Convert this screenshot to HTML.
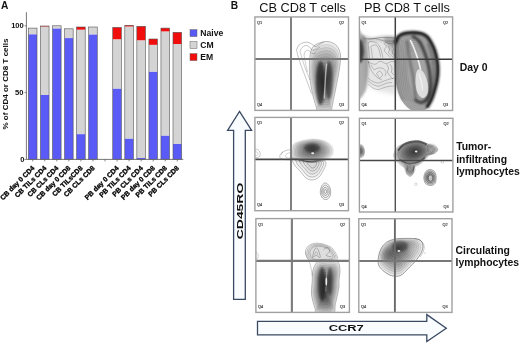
<!DOCTYPE html>
<html><head><meta charset="utf-8"><style>
html,body{margin:0;padding:0;background:#fff;}
svg{display:block;opacity:0.999;}
</style></head><body>
<svg width="520" height="344" viewBox="0 0 520 344">
<defs><clipPath id="c0"><rect x="254.9" y="16.95" width="93.60" height="93.45"/></clipPath><clipPath id="c1"><rect x="359.4" y="16.9" width="93.20" height="93.60"/></clipPath><clipPath id="c2"><rect x="254.9" y="117.4" width="93.55" height="93.30"/></clipPath><clipPath id="c3"><rect x="359.4" y="118.3" width="93.50" height="93.70"/></clipPath><clipPath id="c4"><rect x="255.9" y="218.6" width="93.50" height="93.80"/></clipPath><clipPath id="c5"><rect x="358.8" y="218.7" width="93.20" height="93.70"/></clipPath><filter id="b1" filterUnits="userSpaceOnUse" x="0" y="0" width="520" height="344"><feGaussianBlur stdDeviation="1.25"/></filter><filter id="b2" filterUnits="userSpaceOnUse" x="0" y="0" width="520" height="344"><feGaussianBlur stdDeviation="2"/></filter><filter id="b07" filterUnits="userSpaceOnUse" x="0" y="0" width="520" height="344"><feGaussianBlur stdDeviation="1"/></filter><filter id="b05" filterUnits="userSpaceOnUse" x="0" y="0" width="520" height="344"><feGaussianBlur stdDeviation="1"/></filter></defs>
<rect x="28.40" y="28.1" width="8.6" height="6.30" fill="#d4d4d4"/><rect x="28.40" y="34.4" width="8.6" height="125.00" fill="#5a5af6"/><rect x="28.40" y="28.1" width="8.6" height="131.30" fill="none" stroke="#555" stroke-width="0.6"/><rect x="40.45" y="26.0" width="8.6" height="0.70" fill="#f20d0d"/><rect x="40.45" y="26.7" width="8.6" height="68.30" fill="#d4d4d4"/><rect x="40.45" y="95.0" width="8.6" height="64.40" fill="#5a5af6"/><rect x="40.45" y="26.0" width="8.6" height="133.40" fill="none" stroke="#555" stroke-width="0.6"/><rect x="52.50" y="25.8" width="8.6" height="2.80" fill="#d4d4d4"/><rect x="52.50" y="28.6" width="8.6" height="130.80" fill="#5a5af6"/><rect x="52.50" y="25.8" width="8.6" height="133.60" fill="none" stroke="#555" stroke-width="0.6"/><rect x="64.55" y="28.8" width="8.6" height="9.30" fill="#d4d4d4"/><rect x="64.55" y="38.1" width="8.6" height="121.30" fill="#5a5af6"/><rect x="64.55" y="28.8" width="8.6" height="130.60" fill="none" stroke="#555" stroke-width="0.6"/><rect x="76.60" y="27.0" width="8.6" height="2.80" fill="#f20d0d"/><rect x="76.60" y="29.8" width="8.6" height="104.40" fill="#d4d4d4"/><rect x="76.60" y="134.2" width="8.6" height="25.20" fill="#5a5af6"/><rect x="76.60" y="27.0" width="8.6" height="132.40" fill="none" stroke="#555" stroke-width="0.6"/><rect x="88.65" y="27.0" width="8.6" height="7.60" fill="#d4d4d4"/><rect x="88.65" y="34.6" width="8.6" height="124.80" fill="#5a5af6"/><rect x="88.65" y="27.0" width="8.6" height="132.40" fill="none" stroke="#555" stroke-width="0.6"/><rect x="112.75" y="27.4" width="8.6" height="12.10" fill="#f20d0d"/><rect x="112.75" y="39.5" width="8.6" height="49.30" fill="#d4d4d4"/><rect x="112.75" y="88.8" width="8.6" height="70.60" fill="#5a5af6"/><rect x="112.75" y="27.4" width="8.6" height="132.00" fill="none" stroke="#555" stroke-width="0.6"/><rect x="124.80" y="25.3" width="8.6" height="1.40" fill="#f20d0d"/><rect x="124.80" y="26.7" width="8.6" height="112.10" fill="#d4d4d4"/><rect x="124.80" y="138.8" width="8.6" height="20.60" fill="#5a5af6"/><rect x="124.80" y="25.3" width="8.6" height="134.10" fill="none" stroke="#555" stroke-width="0.6"/><rect x="136.85" y="26.3" width="8.6" height="14.20" fill="#f20d0d"/><rect x="136.85" y="40.5" width="8.6" height="117.50" fill="#d4d4d4"/><rect x="136.85" y="158.0" width="8.6" height="1.40" fill="#5a5af6"/><rect x="136.85" y="26.3" width="8.6" height="133.10" fill="none" stroke="#555" stroke-width="0.6"/><rect x="148.90" y="39.0" width="8.6" height="5.90" fill="#f20d0d"/><rect x="148.90" y="44.9" width="8.6" height="27.00" fill="#d4d4d4"/><rect x="148.90" y="71.9" width="8.6" height="87.50" fill="#5a5af6"/><rect x="148.90" y="39.0" width="8.6" height="120.40" fill="none" stroke="#555" stroke-width="0.6"/><rect x="160.95" y="28.1" width="8.6" height="3.50" fill="#f20d0d"/><rect x="160.95" y="31.6" width="8.6" height="104.20" fill="#d4d4d4"/><rect x="160.95" y="135.8" width="8.6" height="23.60" fill="#5a5af6"/><rect x="160.95" y="28.1" width="8.6" height="131.30" fill="none" stroke="#555" stroke-width="0.6"/><rect x="173.00" y="32.3" width="8.6" height="11.70" fill="#f20d0d"/><rect x="173.00" y="44.0" width="8.6" height="100.00" fill="#d4d4d4"/><rect x="173.00" y="144.0" width="8.6" height="15.40" fill="#5a5af6"/><rect x="173.00" y="32.3" width="8.6" height="127.10" fill="none" stroke="#555" stroke-width="0.6"/><path d="M26.4 12.2 V159.4 H183.3" fill="none" stroke="#666" stroke-width="0.9"/><path d="M24.6 25.8 H26.4" stroke="#666" stroke-width="0.8"/><path d="M24.6 92.6 H26.4" stroke="#666" stroke-width="0.8"/><path d="M24.6 159.4 H26.4" stroke="#666" stroke-width="0.8"/><path d="M32.70 159.4 V161.4" stroke="#666" stroke-width="0.8"/><path d="M44.75 159.4 V161.4" stroke="#666" stroke-width="0.8"/><path d="M56.80 159.4 V161.4" stroke="#666" stroke-width="0.8"/><path d="M68.85 159.4 V161.4" stroke="#666" stroke-width="0.8"/><path d="M80.90 159.4 V161.4" stroke="#666" stroke-width="0.8"/><path d="M92.95 159.4 V161.4" stroke="#666" stroke-width="0.8"/><path d="M105.00 159.4 V161.4" stroke="#666" stroke-width="0.8"/><path d="M117.05 159.4 V161.4" stroke="#666" stroke-width="0.8"/><path d="M129.10 159.4 V161.4" stroke="#666" stroke-width="0.8"/><path d="M141.15 159.4 V161.4" stroke="#666" stroke-width="0.8"/><path d="M153.20 159.4 V161.4" stroke="#666" stroke-width="0.8"/><path d="M165.25 159.4 V161.4" stroke="#666" stroke-width="0.8"/><path d="M177.30 159.4 V161.4" stroke="#666" stroke-width="0.8"/><g font-family="Liberation Sans" font-weight="bold" font-size="7.6" text-anchor="end" fill="#111"><text x="23.8" y="27.9">100</text><text x="23.4" y="95.3">50</text><text x="24.4" y="161.6">0</text></g><text transform="translate(8.4 84) rotate(-90)" text-anchor="middle" font-family="Liberation Sans" font-weight="bold" font-size="7.4" textLength="91" lengthAdjust="spacingAndGlyphs" fill="#111">% of CD4 or CD8 T cells</text><g font-family="Liberation Sans" font-weight="bold" font-size="6.9" text-anchor="end" fill="#000" stroke="#000" stroke-width="0.3"><text transform="translate(34.90 168.5) rotate(-45)">CB day 0 CD4</text><text transform="translate(46.95 168.5) rotate(-45)">CB TILs CD4</text><text transform="translate(59.00 168.5) rotate(-45)">CB CLs CD4</text><text transform="translate(71.05 168.5) rotate(-45)">CB day 0 CD8</text><text transform="translate(83.10 168.5) rotate(-45)">CB TILsCD8</text><text transform="translate(95.15 168.5) rotate(-45)">CB CLs CD8</text><text transform="translate(119.25 168.5) rotate(-45)">PB day 0 CD4</text><text transform="translate(131.30 168.5) rotate(-45)">PB TILs CD4</text><text transform="translate(143.35 168.5) rotate(-45)">PB CLs CD4</text><text transform="translate(155.40 168.5) rotate(-45)">PB day 0 CD8</text><text transform="translate(167.45 168.5) rotate(-45)">PB TILs CD8</text><text transform="translate(179.50 168.5) rotate(-45)">PB CLs CD8</text></g><rect x="190" y="29.6" width="7" height="7" fill="#5a5af6" stroke="#666" stroke-width="0.5"/><text x="200.3" y="35.9" font-family="Liberation Sans" font-weight="bold" font-size="8.6" fill="#111">Naive</text><rect x="190" y="41.6" width="7" height="7" fill="#d4d4d4" stroke="#666" stroke-width="0.5"/><text x="200.3" y="47.9" font-family="Liberation Sans" font-weight="bold" font-size="8.6" fill="#111">CM</text><rect x="190" y="53.6" width="7" height="7" fill="#f20d0d" stroke="#666" stroke-width="0.5"/><text x="200.3" y="59.9" font-family="Liberation Sans" font-weight="bold" font-size="8.6" fill="#111">EM</text><text x="1.0" y="8.6" font-family="Liberation Sans" font-weight="bold" font-size="10.2" fill="#111">A</text><text x="230.8" y="8.5" font-family="Liberation Sans" font-weight="bold" font-size="10.2" fill="#111">B</text><text x="259.3" y="11.9" font-family="Liberation Sans" font-size="12.75" fill="#111">CB CD8 T cells</text><text x="363.9" y="12.3" font-family="Liberation Sans" font-size="12.75" fill="#111">PB CD8 T cells</text><g font-family="Liberation Sans" font-weight="bold" font-size="10.4" fill="#111"><text x="459.7" y="71">Day 0</text><text x="456.2" y="150.3">Tumor-</text><text x="456.2" y="162.6">infiltrating</text><text x="456.2" y="175">lymphocytes</text><text x="455.6" y="253.5">Circulating</text><text x="455.6" y="266">lymphocytes</text></g><g clip-path="url(#c0)"><path d="M296.50 50.00 C296.92 49.17 297.75 46.25 299.00 45.00 C300.25 43.75 302.33 42.92 304.00 42.50 C305.67 42.08 307.50 42.08 309.00 42.50 C310.50 42.92 311.83 44.33 313.00 45.00 C314.17 45.67 314.83 46.67 316.00 46.50 C317.17 46.33 318.67 44.75 320.00 44.00 C321.33 43.25 323.33 42.33 324.00 42.00" fill="none" stroke="rgba(0,0,0,0.55)" stroke-width="0.45"/><path d="M296.50 50.00 C296.75 51.00 297.33 53.67 298.00 56.00 C298.67 58.33 299.58 61.33 300.50 64.00 C301.42 66.67 302.50 69.33 303.50 72.00 C304.50 74.67 305.50 77.33 306.50 80.00 C307.50 82.67 308.67 85.67 309.50 88.00 C310.33 90.33 311.17 93.00 311.50 94.00" fill="none" stroke="rgba(0,0,0,0.5)" stroke-width="0.45"/><path d="M300.00 51.50 C300.33 50.83 301.00 48.50 302.00 47.50 C303.00 46.50 304.75 45.58 306.00 45.50 C307.25 45.42 308.50 46.25 309.50 47.00 C310.50 47.75 310.92 49.58 312.00 50.00 C313.08 50.42 314.67 50.00 316.00 49.50 C317.33 49.00 319.33 47.42 320.00 47.00" fill="none" stroke="rgba(0,0,0,0.5)" stroke-width="0.45"/><path d="M300.00 51.50 C300.33 52.58 301.25 55.58 302.00 58.00 C302.75 60.42 303.58 63.33 304.50 66.00 C305.42 68.67 306.58 71.67 307.50 74.00 C308.42 76.33 309.58 79.00 310.00 80.00" fill="none" stroke="rgba(0,0,0,0.45)" stroke-width="0.45"/><path d="M304.00 55.00 C304.25 54.33 304.67 51.75 305.50 51.00 C306.33 50.25 307.92 50.08 309.00 50.50 C310.08 50.92 310.83 53.08 312.00 53.50 C313.17 53.92 315.33 53.08 316.00 53.00" fill="none" stroke="rgba(0,0,0,0.45)" stroke-width="0.45"/><path d="M304.00 55.00 C304.25 56.33 304.92 60.17 305.50 63.00 C306.08 65.83 307.17 70.50 307.50 72.00" fill="none" stroke="rgba(0,0,0,0.4)" stroke-width="0.45"/><path d="M313.00 47.00 C314.25 45.42 315.83 44.42 318.00 43.50 C320.17 42.58 323.50 41.58 326.00 41.50 C328.50 41.42 331.00 42.00 333.00 43.00 C335.00 44.00 336.75 45.50 338.00 47.50 C339.25 49.50 340.17 52.08 340.50 55.00 C340.83 57.92 340.42 61.33 340.00 65.00 C339.58 68.67 338.75 72.83 338.00 77.00 C337.25 81.17 336.33 85.83 335.50 90.00 C334.67 94.17 333.67 98.67 333.00 102.00 C332.33 105.33 331.92 108.00 331.50 110.00 C331.08 112.00 332.75 113.33 330.50 114.00 C328.25 114.67 320.33 115.00 318.00 114.00 C315.67 113.00 317.25 110.67 316.50 108.00 C315.75 105.33 314.42 101.67 313.50 98.00 C312.58 94.33 311.67 90.00 311.00 86.00 C310.33 82.00 309.75 78.00 309.50 74.00 C309.25 70.00 309.33 65.50 309.50 62.00 C309.67 58.50 309.92 55.50 310.50 53.00 C311.08 50.50 311.75 48.58 313.00 47.00Z" fill="rgba(0,0,0,0.075)" stroke="rgba(0,0,0,0.24)" stroke-width="0.35"/><path d="M313.82 49.62 C314.98 48.16 316.45 47.24 318.45 46.39 C320.45 45.54 323.54 44.61 325.85 44.54 C328.16 44.46 330.48 45.00 332.32 45.92 C334.17 46.85 335.79 48.24 336.95 50.09 C338.11 51.94 338.95 54.33 339.26 57.02 C339.57 59.72 339.19 62.88 338.80 66.28 C338.41 69.67 337.64 73.52 336.95 77.38 C336.26 81.23 335.41 85.55 334.64 89.40 C333.87 93.25 332.94 97.42 332.32 100.50 C331.71 103.58 331.32 106.05 330.94 107.90 C330.55 109.75 332.09 110.98 330.01 111.60 C327.93 112.22 320.61 112.52 318.45 111.60 C316.29 110.67 317.76 108.52 317.06 106.05 C316.37 103.58 315.14 100.19 314.29 96.80 C313.44 93.41 312.59 89.40 311.98 85.70 C311.36 82.00 310.82 78.30 310.59 74.60 C310.36 70.90 310.43 66.74 310.59 63.50 C310.74 60.26 310.97 57.49 311.51 55.17 C312.05 52.86 312.67 51.09 313.82 49.62Z" fill="rgba(0,0,0,0.075)" stroke="rgba(0,0,0,0.24)" stroke-width="0.35"/><path d="M314.65 52.25 C315.71 50.90 317.06 50.05 318.90 49.27 C320.74 48.50 323.57 47.65 325.70 47.58 C327.82 47.50 329.95 48.00 331.65 48.85 C333.35 49.70 334.84 50.97 335.90 52.67 C336.96 54.38 337.74 56.57 338.02 59.05 C338.31 61.53 337.95 64.43 337.60 67.55 C337.25 70.67 336.54 74.21 335.90 77.75 C335.26 81.29 334.48 85.26 333.77 88.80 C333.07 92.34 332.22 96.17 331.65 99.00 C331.08 101.83 330.73 104.10 330.38 105.80 C330.02 107.50 331.44 108.63 329.52 109.20 C327.61 109.77 320.88 110.05 318.90 109.20 C316.92 108.35 318.26 106.37 317.62 104.10 C316.99 101.83 315.85 98.72 315.07 95.60 C314.30 92.48 313.52 88.80 312.95 85.40 C312.38 82.00 311.89 78.60 311.68 75.20 C311.46 71.80 311.53 67.97 311.68 65.00 C311.82 62.02 312.03 59.48 312.52 57.35 C313.02 55.23 313.59 53.60 314.65 52.25Z" fill="rgba(0,0,0,0.075)" stroke="rgba(0,0,0,0.24)" stroke-width="0.35"/><path d="M315.48 54.88 C316.44 53.65 317.67 52.87 319.35 52.16 C321.03 51.45 323.61 50.68 325.55 50.61 C327.49 50.55 329.43 51.00 330.98 51.77 C332.53 52.55 333.88 53.71 334.85 55.26 C335.82 56.81 336.53 58.81 336.79 61.08 C337.05 63.34 336.72 65.98 336.40 68.83 C336.08 71.67 335.43 74.90 334.85 78.12 C334.27 81.35 333.56 84.97 332.91 88.20 C332.27 91.43 331.49 94.92 330.98 97.50 C330.46 100.08 330.14 102.15 329.81 103.70 C329.49 105.25 330.78 106.28 329.04 106.80 C327.29 107.32 321.16 107.57 319.35 106.80 C317.54 106.03 318.77 104.22 318.19 102.15 C317.61 100.08 316.57 97.24 315.86 94.40 C315.15 91.56 314.44 88.20 313.93 85.10 C313.41 82.00 312.96 78.90 312.76 75.80 C312.57 72.70 312.63 69.21 312.76 66.50 C312.89 63.79 313.09 61.46 313.54 59.52 C313.99 57.59 314.51 56.10 315.48 54.88Z" fill="rgba(0,0,0,0.075)" stroke="rgba(0,0,0,0.24)" stroke-width="0.35"/><path d="M316.30 57.50 C317.18 56.39 318.28 55.69 319.80 55.05 C321.32 54.41 323.65 53.71 325.40 53.65 C327.15 53.59 328.90 54.00 330.30 54.70 C331.70 55.40 332.93 56.45 333.80 57.85 C334.68 59.25 335.32 61.06 335.55 63.10 C335.78 65.14 335.49 67.53 335.20 70.10 C334.91 72.67 334.32 75.58 333.80 78.50 C333.28 81.42 332.63 84.68 332.05 87.60 C331.47 90.52 330.77 93.67 330.30 96.00 C329.83 98.33 329.54 100.20 329.25 101.60 C328.96 103.00 330.12 103.93 328.55 104.40 C326.98 104.87 321.43 105.10 319.80 104.40 C318.17 103.70 319.27 102.07 318.75 100.20 C318.23 98.33 317.29 95.77 316.65 93.20 C316.01 90.63 315.37 87.60 314.90 84.80 C314.43 82.00 314.03 79.20 313.85 76.40 C313.68 73.60 313.73 70.45 313.85 68.00 C313.97 65.55 314.14 63.45 314.55 61.70 C314.96 59.95 315.43 58.61 316.30 57.50Z" fill="rgba(0,0,0,0.075)" stroke="rgba(0,0,0,0.24)" stroke-width="0.35"/><path d="M317.12 60.12 C317.91 59.14 318.90 58.51 320.25 57.94 C321.60 57.36 323.69 56.74 325.25 56.69 C326.81 56.64 328.38 57.00 329.62 57.62 C330.88 58.25 331.97 59.19 332.75 60.44 C333.53 61.69 334.10 63.30 334.31 65.12 C334.52 66.95 334.26 69.08 334.00 71.38 C333.74 73.67 333.22 76.27 332.75 78.88 C332.28 81.48 331.71 84.40 331.19 87.00 C330.67 89.60 330.04 92.42 329.62 94.50 C329.21 96.58 328.95 98.25 328.69 99.50 C328.43 100.75 329.47 101.58 328.06 102.00 C326.66 102.42 321.71 102.62 320.25 102.00 C318.79 101.38 319.78 99.92 319.31 98.25 C318.84 96.58 318.01 94.29 317.44 92.00 C316.86 89.71 316.29 87.00 315.88 84.50 C315.46 82.00 315.09 79.50 314.94 77.00 C314.78 74.50 314.83 71.69 314.94 69.50 C315.04 67.31 315.20 65.44 315.56 63.88 C315.93 62.31 316.34 61.11 317.12 60.12Z" fill="rgba(0,0,0,0.075)" stroke="rgba(0,0,0,0.24)" stroke-width="0.35"/><path d="M317.95 62.75 C318.64 61.88 319.51 61.33 320.70 60.83 C321.89 60.32 323.73 59.77 325.10 59.72 C326.48 59.68 327.85 60.00 328.95 60.55 C330.05 61.10 331.01 61.92 331.70 63.02 C332.39 64.12 332.89 65.55 333.07 67.15 C333.26 68.75 333.03 70.63 332.80 72.65 C332.57 74.67 332.11 76.96 331.70 79.25 C331.29 81.54 330.78 84.11 330.32 86.40 C329.87 88.69 329.32 91.17 328.95 93.00 C328.58 94.83 328.35 96.30 328.12 97.40 C327.90 98.50 328.81 99.23 327.57 99.60 C326.34 99.97 321.98 100.15 320.70 99.60 C319.42 99.05 320.29 97.77 319.88 96.30 C319.46 94.83 318.73 92.82 318.23 90.80 C317.72 88.78 317.22 86.40 316.85 84.20 C316.48 82.00 316.16 79.80 316.02 77.60 C315.89 75.40 315.93 72.92 316.02 71.00 C316.12 69.08 316.25 67.42 316.57 66.05 C316.90 64.67 317.26 63.62 317.95 62.75Z" fill="rgba(0,0,0,0.075)" stroke="rgba(0,0,0,0.24)" stroke-width="0.35"/><path d="M318.77 65.38 C319.37 64.62 320.12 64.15 321.15 63.71 C322.18 63.28 323.76 62.80 324.95 62.76 C326.14 62.72 327.32 63.00 328.27 63.48 C329.22 63.95 330.06 64.66 330.65 65.61 C331.24 66.56 331.68 67.79 331.84 69.17 C332.00 70.56 331.80 72.18 331.60 73.92 C331.40 75.67 331.01 77.65 330.65 79.62 C330.29 81.60 329.86 83.82 329.46 85.80 C329.07 87.78 328.59 89.92 328.27 91.50 C327.96 93.08 327.76 94.35 327.56 95.30 C327.36 96.25 328.16 96.88 327.09 97.20 C326.02 97.52 322.26 97.68 321.15 97.20 C320.04 96.72 320.79 95.62 320.44 94.35 C320.08 93.08 319.45 91.34 319.01 89.60 C318.58 87.86 318.14 85.80 317.82 83.90 C317.51 82.00 317.23 80.10 317.11 78.20 C316.99 76.30 317.03 74.16 317.11 72.50 C317.19 70.84 317.31 69.41 317.59 68.22 C317.86 67.04 318.18 66.13 318.77 65.38Z" fill="rgba(0,0,0,0.075)" stroke="rgba(0,0,0,0.24)" stroke-width="0.35"/><path d="M319.60 68.00 C320.10 67.37 320.73 66.97 321.60 66.60 C322.47 66.23 323.80 65.83 324.80 65.80 C325.80 65.77 326.80 66.00 327.60 66.40 C328.40 66.80 329.10 67.40 329.60 68.20 C330.10 69.00 330.47 70.03 330.60 71.20 C330.73 72.37 330.57 73.73 330.40 75.20 C330.23 76.67 329.90 78.33 329.60 80.00 C329.30 81.67 328.93 83.53 328.60 85.20 C328.27 86.87 327.87 88.67 327.60 90.00 C327.33 91.33 327.17 92.40 327.00 93.20 C326.83 94.00 327.50 94.53 326.60 94.80 C325.70 95.07 322.53 95.20 321.60 94.80 C320.67 94.40 321.30 93.47 321.00 92.40 C320.70 91.33 320.17 89.87 319.80 88.40 C319.43 86.93 319.07 85.20 318.80 83.60 C318.53 82.00 318.30 80.40 318.20 78.80 C318.10 77.20 318.13 75.40 318.20 74.00 C318.27 72.60 318.37 71.40 318.60 70.40 C318.83 69.40 319.10 68.63 319.60 68.00Z" fill="rgba(0,0,0,0.075)" stroke="rgba(0,0,0,0.24)" stroke-width="0.35"/><path d="M320.43 70.62 C320.83 70.11 321.35 69.79 322.05 69.49 C322.75 69.19 323.84 68.86 324.65 68.84 C325.46 68.81 326.27 69.00 326.93 69.33 C327.58 69.65 328.14 70.14 328.55 70.79 C328.96 71.44 329.25 72.28 329.36 73.22 C329.47 74.17 329.34 75.28 329.20 76.47 C329.06 77.67 328.79 79.02 328.55 80.38 C328.31 81.73 328.01 83.25 327.74 84.60 C327.47 85.95 327.14 87.42 326.93 88.50 C326.71 89.58 326.57 90.45 326.44 91.10 C326.30 91.75 326.84 92.18 326.11 92.40 C325.38 92.62 322.81 92.73 322.05 92.40 C321.29 92.08 321.81 91.32 321.56 90.45 C321.32 89.58 320.89 88.39 320.59 87.20 C320.29 86.01 319.99 84.60 319.77 83.30 C319.56 82.00 319.37 80.70 319.29 79.40 C319.21 78.10 319.23 76.64 319.29 75.50 C319.34 74.36 319.42 73.39 319.61 72.58 C319.80 71.76 320.02 71.14 320.43 70.62Z" fill="rgba(0,0,0,0.075)" stroke="rgba(0,0,0,0.24)" stroke-width="0.35"/><path d="M321.25 73.25 C321.56 72.85 321.96 72.60 322.50 72.38 C323.04 72.15 323.88 71.90 324.50 71.88 C325.12 71.85 325.75 72.00 326.25 72.25 C326.75 72.50 327.19 72.88 327.50 73.38 C327.81 73.88 328.04 74.52 328.12 75.25 C328.21 75.98 328.10 76.83 328.00 77.75 C327.90 78.67 327.69 79.71 327.50 80.75 C327.31 81.79 327.08 82.96 326.88 84.00 C326.67 85.04 326.42 86.17 326.25 87.00 C326.08 87.83 325.98 88.50 325.88 89.00 C325.77 89.50 326.19 89.83 325.62 90.00 C325.06 90.17 323.08 90.25 322.50 90.00 C321.92 89.75 322.31 89.17 322.12 88.50 C321.94 87.83 321.60 86.92 321.38 86.00 C321.15 85.08 320.92 84.00 320.75 83.00 C320.58 82.00 320.44 81.00 320.38 80.00 C320.31 79.00 320.33 77.88 320.38 77.00 C320.42 76.12 320.48 75.38 320.62 74.75 C320.77 74.12 320.94 73.65 321.25 73.25Z" fill="rgba(0,0,0,0.075)" stroke="rgba(0,0,0,0.24)" stroke-width="0.35"/><path d="M322.07 75.88 C322.29 75.60 322.57 75.42 322.95 75.26 C323.33 75.10 323.91 74.93 324.35 74.91 C324.79 74.90 325.23 75.00 325.57 75.17 C325.92 75.35 326.23 75.61 326.45 75.96 C326.67 76.31 326.83 76.76 326.89 77.28 C326.95 77.79 326.87 78.38 326.80 79.03 C326.73 79.67 326.58 80.40 326.45 81.12 C326.32 81.85 326.16 82.67 326.01 83.40 C325.87 84.13 325.69 84.92 325.57 85.50 C325.46 86.08 325.39 86.55 325.31 86.90 C325.24 87.25 325.53 87.48 325.14 87.60 C324.74 87.72 323.36 87.77 322.95 87.60 C322.54 87.42 322.82 87.02 322.69 86.55 C322.56 86.08 322.32 85.44 322.16 84.80 C322.00 84.16 321.84 83.40 321.73 82.70 C321.61 82.00 321.51 81.30 321.46 80.60 C321.42 79.90 321.43 79.11 321.46 78.50 C321.49 77.89 321.54 77.36 321.64 76.92 C321.74 76.49 321.86 76.15 322.07 75.88Z" fill="rgba(0,0,0,0.075)" stroke="rgba(0,0,0,0.24)" stroke-width="0.35"/><path d="M322.90 78.50 C323.02 78.34 323.18 78.24 323.40 78.15 C323.62 78.06 323.95 77.96 324.20 77.95 C324.45 77.94 324.70 78.00 324.90 78.10 C325.10 78.20 325.27 78.35 325.40 78.55 C325.52 78.75 325.62 79.01 325.65 79.30 C325.68 79.59 325.64 79.93 325.60 80.30 C325.56 80.67 325.47 81.08 325.40 81.50 C325.32 81.92 325.23 82.38 325.15 82.80 C325.07 83.22 324.97 83.67 324.90 84.00 C324.83 84.33 324.79 84.60 324.75 84.80 C324.71 85.00 324.88 85.13 324.65 85.20 C324.42 85.27 323.63 85.30 323.40 85.20 C323.17 85.10 323.32 84.87 323.25 84.60 C323.18 84.33 323.04 83.97 322.95 83.60 C322.86 83.23 322.77 82.80 322.70 82.40 C322.63 82.00 322.57 81.60 322.55 81.20 C322.53 80.80 322.53 80.35 322.55 80.00 C322.57 79.65 322.59 79.35 322.65 79.10 C322.71 78.85 322.77 78.66 322.90 78.50Z" fill="rgba(0,0,0,0.075)" stroke="rgba(0,0,0,0.24)" stroke-width="0.35"/><path d="M313.00 47.00 C314.25 45.42 315.83 44.42 318.00 43.50 C320.17 42.58 323.50 41.58 326.00 41.50 C328.50 41.42 331.00 42.00 333.00 43.00 C335.00 44.00 336.75 45.50 338.00 47.50 C339.25 49.50 340.17 52.08 340.50 55.00 C340.83 57.92 340.42 61.33 340.00 65.00 C339.58 68.67 338.75 72.83 338.00 77.00 C337.25 81.17 336.33 85.83 335.50 90.00 C334.67 94.17 333.67 98.67 333.00 102.00 C332.33 105.33 331.92 108.00 331.50 110.00 C331.08 112.00 332.75 113.33 330.50 114.00 C328.25 114.67 320.33 115.00 318.00 114.00 C315.67 113.00 317.25 110.67 316.50 108.00 C315.75 105.33 314.42 101.67 313.50 98.00 C312.58 94.33 311.67 90.00 311.00 86.00 C310.33 82.00 309.75 78.00 309.50 74.00 C309.25 70.00 309.33 65.50 309.50 62.00 C309.67 58.50 309.92 55.50 310.50 53.00 C311.08 50.50 311.75 48.58 313.00 47.00Z" fill="none" stroke="rgba(0,0,0,0.45)" stroke-width="0.45"/><ellipse cx="320.6" cy="83" rx="4.8" ry="22" fill="rgba(0,0,0,0.55)" filter="url(#b1)"/><ellipse cx="329" cy="80" rx="3.6" ry="19" fill="rgba(0,0,0,0.45)" filter="url(#b1)"/><path d="M326.60 64.00 C326.43 65.83 325.87 71.33 325.60 75.00 C325.33 78.67 325.22 82.17 325.00 86.00 C324.78 89.83 324.42 96.00 324.30 98.00" fill="none" stroke="rgba(255,255,255,0.55)" stroke-width="1.4" stroke-linecap="round"/></g><path d="M291.0 16.95 V110.4" stroke="#808080" stroke-width="2.0"/><path d="M254.9 59.0 H348.5" stroke="#787878" stroke-width="2.0"/><rect x="254.9" y="16.95" width="93.60" height="93.45" fill="none" stroke="#a0a0a0" stroke-width="1.4"/><g font-family="Liberation Sans" font-size="3.9" fill="#333" stroke="#333" stroke-width="0.15"><text x="257.10" y="23.95">Q1</text><text x="344.20" y="23.95" text-anchor="end">Q2</text><text x="257.10" y="106.10">Q4</text><text x="344.20" y="106.10" text-anchor="end">Q3</text></g><g clip-path="url(#c1)"><path d="M357.00 33.00 C357.83 22.83 360.42 32.83 362.00 34.00 C363.58 35.17 365.50 37.00 366.50 40.00 C367.50 43.00 367.67 47.67 368.00 52.00 C368.33 56.33 368.58 61.33 368.50 66.00 C368.42 70.67 368.08 75.67 367.50 80.00 C366.92 84.33 366.75 89.50 365.00 92.00 C363.25 94.50 358.33 104.83 357.00 95.00 C355.67 85.17 356.17 43.17 357.00 33.00Z" fill="rgba(0,0,0,0.32)" filter="url(#b1)"/><ellipse cx="359.5" cy="51" rx="4.5" ry="12" fill="rgba(0,0,0,0.65)" filter="url(#b1)"/><path d="M362.00 35.50 C363.33 34.50 368.67 37.00 372.00 37.00 C375.33 37.00 378.67 35.75 382.00 35.50 C385.33 35.25 389.50 35.25 392.00 35.50 C394.50 35.75 396.17 35.25 397.00 37.00 C397.83 38.75 398.17 44.67 397.00 46.00 C395.83 47.33 392.50 45.67 390.00 45.00 C387.50 44.33 385.00 42.58 382.00 42.00 C379.00 41.42 375.00 41.33 372.00 41.50 C369.00 41.67 365.67 44.00 364.00 43.00 C362.33 42.00 360.67 36.50 362.00 35.50Z" fill="rgba(0,0,0,0.16)" filter="url(#b07)"/><path d="M364.00 38.50 C365.33 38.58 369.33 39.17 372.00 39.00 C374.67 38.83 377.33 37.75 380.00 37.50 C382.67 37.25 385.33 37.42 388.00 37.50 C390.67 37.58 394.67 37.92 396.00 38.00" fill="none" stroke="rgba(0,0,0,0.5)" stroke-width="0.5"/><path d="M384.00 38.00 C384.50 36.17 389.83 36.67 392.00 37.00 C394.17 37.33 396.17 36.50 397.00 40.00 C397.83 43.50 397.67 55.33 397.00 58.00 C396.33 60.67 394.33 57.67 393.00 56.00 C391.67 54.33 390.50 51.00 389.00 48.00 C387.50 45.00 383.50 39.83 384.00 38.00Z" fill="rgba(0,0,0,0.18)" filter="url(#b1)"/><path d="M366.00 42.00 C367.83 39.67 372.33 41.33 376.00 41.00 C379.67 40.67 384.67 39.83 388.00 40.00 C391.33 40.17 394.67 33.67 396.00 42.00 C397.33 50.33 397.33 81.50 396.00 90.00 C394.67 98.50 391.33 93.00 388.00 93.00 C384.67 93.00 379.50 91.50 376.00 90.00 C372.50 88.50 368.83 87.33 367.00 84.00 C365.17 80.67 365.33 74.83 365.00 70.00 C364.67 65.17 364.83 59.67 365.00 55.00 C365.17 50.33 364.17 44.33 366.00 42.00Z" fill="rgba(0,0,0,0.1)" filter="url(#b2)"/><path d="M367.50 39.10 C368.67 38.98 372.18 38.22 374.50 38.40 C376.82 38.58 379.43 39.73 381.40 40.20 C383.37 40.67 384.08 41.08 386.30 41.20 C388.52 41.32 393.30 40.95 394.70 40.90" fill="none" stroke="rgba(0,0,0,0.5)" stroke-width="0.42"/><path d="M369.60 58.30 C369.48 56.92 369.13 52.55 368.90 50.00 C368.67 47.45 367.85 44.40 368.20 43.00 C368.55 41.60 369.60 41.60 371.00 41.60 C372.40 41.60 375.10 42.07 376.60 43.00 C378.10 43.93 379.08 45.47 380.00 47.20 C380.92 48.93 381.63 51.55 382.10 53.40 C382.57 55.25 382.68 57.48 382.80 58.30" fill="none" stroke="rgba(0,0,0,0.5)" stroke-width="0.42"/><path d="M372.50 58.00 C372.33 56.67 371.75 51.92 371.50 50.00 C371.25 48.08 370.27 47.33 371.00 46.50 C371.73 45.67 374.63 44.65 375.90 45.00 C377.17 45.35 377.92 47.27 378.60 48.60 C379.28 49.93 379.65 51.60 380.00 53.00 C380.35 54.40 380.58 56.33 380.70 57.00" fill="none" stroke="rgba(0,0,0,0.5)" stroke-width="0.42"/><path d="M383.50 43.00 C383.97 43.58 386.18 45.33 386.30 46.50 C386.42 47.67 384.08 48.73 384.20 50.00 C384.32 51.27 385.95 52.85 387.00 54.10 C388.05 55.35 389.92 56.93 390.50 57.50" fill="none" stroke="rgba(0,0,0,0.5)" stroke-width="0.42"/><path d="M384.90 42.30 C385.83 42.53 389.10 43.58 390.50 43.70 C391.90 43.82 392.55 42.62 393.30 43.00 C394.05 43.38 394.72 45.50 395.00 46.00" fill="none" stroke="rgba(0,0,0,0.5)" stroke-width="0.42"/><path d="M388.00 46.00 C388.25 46.58 389.42 48.42 389.50 49.50 C389.58 50.58 388.25 51.50 388.50 52.50 C388.75 53.50 390.08 54.67 391.00 55.50 C391.92 56.33 393.50 57.17 394.00 57.50" fill="none" stroke="rgba(0,0,0,0.5)" stroke-width="0.42"/><path d="M391.90 45.00 C392.17 45.67 393.40 47.67 393.50 49.00 C393.60 50.33 392.25 51.83 392.50 53.00 C392.75 54.17 394.58 55.50 395.00 56.00" fill="none" stroke="rgba(0,0,0,0.5)" stroke-width="0.42"/><path d="M368.00 62.00 C369.17 62.38 373.00 64.42 375.00 64.30 C377.00 64.18 378.17 61.43 380.00 61.30 C381.83 61.17 384.00 63.50 386.00 63.50 C388.00 63.50 390.50 61.47 392.00 61.30 C393.50 61.13 394.50 62.30 395.00 62.50" fill="none" stroke="rgba(0,0,0,0.5)" stroke-width="0.42"/><path d="M368.20 61.00 C368.55 62.23 369.43 66.30 370.30 68.40 C371.17 70.50 372.18 72.03 373.40 73.60 C374.62 75.17 376.17 76.73 377.60 77.80 C379.03 78.87 381.27 79.63 382.00 80.00" fill="none" stroke="rgba(0,0,0,0.5)" stroke-width="0.42"/><path d="M376.60 73.60 C377.12 73.20 378.72 71.03 379.70 71.20 C380.68 71.37 382.50 73.47 382.50 74.60 C382.50 75.73 380.68 78.17 379.70 78.00 C378.72 77.83 377.12 74.33 376.60 73.60" fill="none" stroke="rgba(0,0,0,0.5)" stroke-width="0.42"/><path d="M371.00 65.00 C371.50 65.75 372.83 69.00 374.00 69.50 C375.17 70.00 376.50 68.17 378.00 68.00 C379.50 67.83 381.67 67.83 383.00 68.50 C384.33 69.17 385.67 70.75 386.00 72.00 C386.33 73.25 385.17 75.33 385.00 76.00" fill="none" stroke="rgba(0,0,0,0.5)" stroke-width="0.42"/><path d="M386.50 64.00 C386.83 64.67 388.33 66.67 388.50 68.00 C388.67 69.33 387.25 70.67 387.50 72.00 C387.75 73.33 389.08 74.83 390.00 76.00 C390.92 77.17 392.50 78.50 393.00 79.00" fill="none" stroke="rgba(0,0,0,0.5)" stroke-width="0.42"/><path d="M390.00 64.00 C390.33 64.67 391.75 66.67 392.00 68.00 C392.25 69.33 391.17 70.83 391.50 72.00 C391.83 73.17 393.58 74.50 394.00 75.00" fill="none" stroke="rgba(0,0,0,0.5)" stroke-width="0.42"/><path d="M368.00 78.00 C368.67 78.50 370.33 80.17 372.00 81.00 C373.67 81.83 376.00 83.00 378.00 83.00 C380.00 83.00 382.00 81.67 384.00 81.00 C386.00 80.33 388.17 79.50 390.00 79.00 C391.83 78.50 394.17 78.17 395.00 78.00" fill="none" stroke="rgba(0,0,0,0.5)" stroke-width="0.42"/><path d="M368.20 81.00 C368.90 81.50 370.83 83.13 372.40 84.00 C373.97 84.87 376.03 86.02 377.60 86.20 C379.17 86.38 380.23 85.63 381.80 85.10 C383.37 84.57 385.27 83.43 387.00 83.00 C388.73 82.57 391.33 82.58 392.20 82.50" fill="none" stroke="rgba(0,0,0,0.5)" stroke-width="0.42"/><path d="M368.00 84.00 C368.83 84.67 371.33 87.08 373.00 88.00 C374.67 88.92 376.33 89.50 378.00 89.50 C379.67 89.50 381.33 88.50 383.00 88.00 C384.67 87.50 386.17 86.83 388.00 86.50 C389.83 86.17 393.00 86.08 394.00 86.00" fill="none" stroke="rgba(0,0,0,0.5)" stroke-width="0.42"/><path d="M396.00 38.00 C396.92 35.33 398.33 35.00 400.00 34.00 C401.67 33.00 403.67 32.42 406.00 32.00 C408.33 31.58 411.33 31.42 414.00 31.50 C416.67 31.58 419.67 31.75 422.00 32.50 C424.33 33.25 426.33 34.42 428.00 36.00 C429.67 37.58 430.75 39.67 432.00 42.00 C433.25 44.33 434.50 47.00 435.50 50.00 C436.50 53.00 437.42 56.67 438.00 60.00 C438.58 63.33 439.00 66.67 439.00 70.00 C439.00 73.33 438.58 76.67 438.00 80.00 C437.42 83.33 436.42 86.83 435.50 90.00 C434.58 93.17 433.58 96.33 432.50 99.00 C431.42 101.67 430.42 104.00 429.00 106.00 C427.58 108.00 426.17 109.92 424.00 111.00 C421.83 112.08 418.67 113.00 416.00 112.50 C413.33 112.00 410.33 109.92 408.00 108.00 C405.67 106.08 403.67 103.67 402.00 101.00 C400.33 98.33 399.08 95.50 398.00 92.00 C396.92 88.50 396.08 84.50 395.50 80.00 C394.92 75.50 394.67 70.00 394.50 65.00 C394.33 60.00 394.25 54.50 394.50 50.00 C394.75 45.50 395.08 40.67 396.00 38.00Z" fill="rgba(0,0,0,0.36)"/><path d="M397.32 40.04 C398.18 37.53 399.51 37.22 401.08 36.28 C402.65 35.34 404.53 34.79 406.72 34.40 C408.91 34.01 411.73 33.85 414.24 33.93 C416.75 34.01 419.57 34.17 421.76 34.87 C423.95 35.58 425.83 36.67 427.40 38.16 C428.97 39.65 429.99 41.61 431.16 43.80 C432.34 45.99 433.51 48.50 434.45 51.32 C435.39 54.14 436.25 57.59 436.80 60.72 C437.35 63.85 437.74 66.99 437.74 70.12 C437.74 73.25 437.35 76.39 436.80 79.52 C436.25 82.65 435.31 85.94 434.45 88.92 C433.59 91.90 432.65 94.87 431.63 97.38 C430.61 99.89 429.67 102.08 428.34 103.96 C427.01 105.84 425.68 107.64 423.64 108.66 C421.60 109.68 418.63 110.54 416.12 110.07 C413.61 109.60 410.79 107.64 408.60 105.84 C406.41 104.04 404.53 101.77 402.96 99.26 C401.39 96.75 400.22 94.09 399.20 90.80 C398.18 87.51 397.40 83.75 396.85 79.52 C396.30 75.29 396.07 70.12 395.91 65.42 C395.75 60.72 395.68 55.55 395.91 51.32 C396.15 47.09 396.46 42.55 397.32 40.04Z" fill="rgba(0,0,0,0.0)" stroke="rgba(0,0,0,0.2)" stroke-width="0.35"/><path d="M398.48 41.84 C399.30 39.47 400.55 39.18 402.03 38.29 C403.51 37.40 405.28 36.88 407.35 36.52 C409.42 36.15 412.09 36.00 414.45 36.07 C416.82 36.15 419.48 36.29 421.55 36.96 C423.62 37.62 425.39 38.66 426.87 40.06 C428.35 41.47 429.31 43.32 430.42 45.39 C431.53 47.46 432.64 49.82 433.52 52.48 C434.41 55.14 435.23 58.40 435.74 61.35 C436.26 64.31 436.63 67.27 436.63 70.23 C436.63 73.18 436.26 76.14 435.74 79.10 C435.23 82.05 434.34 85.16 433.52 87.97 C432.71 90.78 431.82 93.59 430.86 95.95 C429.90 98.32 429.02 100.39 427.76 102.16 C426.50 103.94 425.24 105.64 423.32 106.60 C421.40 107.56 418.59 108.37 416.23 107.93 C413.86 107.48 411.20 105.64 409.13 103.94 C407.06 102.24 405.28 100.09 403.81 97.73 C402.33 95.36 401.22 92.85 400.26 89.74 C399.30 86.64 398.56 83.09 398.04 79.10 C397.52 75.10 397.30 70.23 397.15 65.79 C397.00 61.35 396.93 56.48 397.15 52.48 C397.37 48.49 397.67 44.20 398.48 41.84Z" fill="rgba(0,0,0,0.0)" stroke="rgba(0,0,0,0.2)" stroke-width="0.35"/><path d="M399.65 43.64 C400.41 41.41 401.59 41.13 402.98 40.30 C404.37 39.46 406.04 38.98 407.99 38.63 C409.94 38.28 412.44 38.14 414.66 38.21 C416.89 38.28 419.39 38.42 421.34 39.05 C423.28 39.67 424.95 40.65 426.34 41.97 C427.73 43.29 428.64 45.03 429.68 46.97 C430.72 48.92 431.77 51.14 432.60 53.65 C433.43 56.15 434.20 59.21 434.69 61.99 C435.17 64.77 435.52 67.55 435.52 70.33 C435.52 73.11 435.17 75.89 434.69 78.67 C434.20 81.45 433.36 84.37 432.60 87.02 C431.83 89.66 431.00 92.30 430.10 94.52 C429.19 96.75 428.36 98.70 427.18 100.36 C425.99 102.03 424.81 103.63 423.01 104.54 C421.20 105.44 418.56 106.20 416.33 105.79 C414.11 105.37 411.60 103.63 409.66 102.03 C407.71 100.43 406.04 98.42 404.65 96.19 C403.26 93.97 402.22 91.60 401.31 88.69 C400.41 85.77 399.72 82.43 399.23 78.67 C398.74 74.92 398.53 70.33 398.40 66.16 C398.26 61.99 398.19 57.40 398.40 53.65 C398.60 49.89 398.88 45.86 399.65 43.64Z" fill="rgba(0,0,0,0.0)" stroke="rgba(0,0,0,0.2)" stroke-width="0.35"/><path d="M400.81 45.43 C401.53 43.35 402.63 43.09 403.94 42.31 C405.24 41.53 406.80 41.07 408.62 40.75 C410.45 40.42 412.79 40.29 414.87 40.35 C416.96 40.42 419.30 40.55 421.13 41.14 C422.95 41.72 424.51 42.63 425.81 43.87 C427.12 45.11 427.96 46.74 428.94 48.56 C429.92 50.38 430.89 52.47 431.67 54.81 C432.46 57.15 433.17 60.02 433.63 62.62 C434.08 65.23 434.41 67.83 434.41 70.44 C434.41 73.04 434.08 75.65 433.63 78.25 C433.17 80.86 432.39 83.59 431.67 86.06 C430.96 88.54 430.18 91.01 429.33 93.10 C428.48 95.18 427.70 97.00 426.60 98.57 C425.49 100.13 424.38 101.63 422.69 102.47 C421.00 103.32 418.52 104.04 416.44 103.65 C414.35 103.25 412.01 101.63 410.19 100.13 C408.36 98.63 406.80 96.74 405.50 94.66 C404.20 92.58 403.22 90.36 402.37 87.63 C401.53 84.89 400.87 81.77 400.42 78.25 C399.96 74.73 399.77 70.44 399.64 66.53 C399.51 62.62 399.44 58.33 399.64 54.81 C399.83 51.29 400.09 47.52 400.81 45.43Z" fill="rgba(0,0,0,0.0)" stroke="rgba(0,0,0,0.2)" stroke-width="0.35"/><path d="M401.97 47.23 C402.64 45.29 403.67 45.05 404.89 44.32 C406.10 43.59 407.56 43.16 409.26 42.86 C410.96 42.56 413.14 42.44 415.09 42.50 C417.03 42.56 419.21 42.68 420.91 43.22 C422.61 43.77 424.07 44.62 425.28 45.77 C426.50 46.93 427.29 48.45 428.20 50.14 C429.11 51.84 430.02 53.79 430.75 55.97 C431.48 58.16 432.15 60.83 432.57 63.26 C432.99 65.69 433.30 68.11 433.30 70.54 C433.30 72.97 432.99 75.40 432.57 77.83 C432.15 80.26 431.42 82.81 430.75 85.11 C430.08 87.42 429.35 89.73 428.56 91.67 C427.77 93.61 427.05 95.31 426.01 96.77 C424.98 98.23 423.95 99.62 422.37 100.41 C420.79 101.20 418.49 101.87 416.54 101.50 C414.60 101.14 412.41 99.62 410.72 98.23 C409.02 96.83 407.56 95.07 406.34 93.13 C405.13 91.18 404.22 89.12 403.43 86.57 C402.64 84.02 402.03 81.11 401.61 77.83 C401.18 74.55 401.00 70.54 400.88 66.90 C400.76 63.26 400.70 59.25 400.88 55.97 C401.06 52.69 401.31 49.17 401.97 47.23Z" fill="rgba(0,0,0,0.0)" stroke="rgba(0,0,0,0.2)" stroke-width="0.35"/><path d="M403.14 49.03 C403.76 47.23 404.71 47.00 405.84 46.33 C406.96 45.65 408.32 45.26 409.89 44.98 C411.47 44.69 413.50 44.58 415.30 44.64 C417.10 44.69 419.13 44.81 420.70 45.31 C422.28 45.82 423.63 46.61 424.76 47.68 C425.88 48.75 426.61 50.15 427.46 51.73 C428.30 53.31 429.15 55.11 429.82 57.14 C430.50 59.16 431.12 61.64 431.51 63.89 C431.91 66.14 432.19 68.40 432.19 70.65 C432.19 72.90 431.91 75.15 431.51 77.41 C431.12 79.66 430.44 82.02 429.82 84.16 C429.20 86.30 428.53 88.44 427.80 90.24 C427.06 92.04 426.39 93.62 425.43 94.97 C424.47 96.32 423.52 97.62 422.05 98.35 C420.59 99.08 418.45 99.70 416.65 99.36 C414.85 99.02 412.82 97.62 411.24 96.32 C409.67 95.03 408.32 93.39 407.19 91.59 C406.06 89.79 405.22 87.88 404.49 85.51 C403.76 83.15 403.19 80.45 402.80 77.41 C402.40 74.36 402.24 70.65 402.12 67.27 C402.01 63.89 401.95 60.18 402.12 57.14 C402.29 54.10 402.52 50.83 403.14 49.03Z" fill="rgba(0,0,0,0.0)" stroke="rgba(0,0,0,0.2)" stroke-width="0.35"/><path d="M404.30 50.83 C404.87 49.17 405.75 48.96 406.79 48.34 C407.83 47.71 409.07 47.35 410.53 47.09 C411.98 46.83 413.85 46.73 415.51 46.78 C417.17 46.83 419.04 46.93 420.49 47.40 C421.94 47.87 423.19 48.59 424.23 49.58 C425.27 50.57 425.94 51.86 426.72 53.32 C427.50 54.77 428.28 56.43 428.90 58.30 C429.52 60.17 430.09 62.45 430.45 64.53 C430.82 66.60 431.08 68.68 431.08 70.75 C431.08 72.83 430.82 74.91 430.45 76.98 C430.09 79.06 429.47 81.24 428.90 83.21 C428.33 85.18 427.70 87.15 427.03 88.81 C426.36 90.47 425.73 91.93 424.85 93.17 C423.97 94.42 423.09 95.61 421.74 96.29 C420.39 96.96 418.42 97.53 416.75 97.22 C415.09 96.91 413.23 95.61 411.77 94.42 C410.32 93.23 409.07 91.72 408.04 90.06 C407.00 88.40 406.22 86.63 405.55 84.45 C404.87 82.28 404.35 79.78 403.99 76.98 C403.62 74.18 403.47 70.75 403.37 67.64 C403.26 64.53 403.21 61.10 403.37 58.30 C403.52 55.50 403.73 52.49 404.30 50.83Z" fill="rgba(0,0,0,0.0)" stroke="rgba(0,0,0,0.2)" stroke-width="0.35"/><path d="M405.46 52.62 C405.99 51.10 406.79 50.91 407.74 50.34 C408.69 49.77 409.83 49.44 411.16 49.20 C412.49 48.97 414.20 48.87 415.72 48.92 C417.24 48.97 418.95 49.06 420.28 49.49 C421.61 49.92 422.75 50.58 423.70 51.48 C424.65 52.39 425.27 53.57 425.98 54.90 C426.69 56.23 427.40 57.75 427.97 59.46 C428.54 61.17 429.07 63.26 429.40 65.16 C429.73 67.06 429.97 68.96 429.97 70.86 C429.97 72.76 429.73 74.66 429.40 76.56 C429.07 78.46 428.50 80.45 427.97 82.26 C427.45 84.06 426.88 85.87 426.26 87.39 C425.65 88.91 425.08 90.24 424.27 91.38 C423.46 92.52 422.65 93.61 421.42 94.23 C420.18 94.84 418.38 95.36 416.86 95.08 C415.34 94.80 413.63 93.61 412.30 92.52 C410.97 91.42 409.83 90.05 408.88 88.53 C407.93 87.01 407.22 85.39 406.60 83.40 C405.99 81.40 405.51 79.12 405.18 76.56 C404.85 73.99 404.70 70.86 404.61 68.01 C404.51 65.16 404.47 62.03 404.61 59.46 C404.75 56.90 404.94 54.14 405.46 52.62Z" fill="rgba(0,0,0,0.0)" stroke="rgba(0,0,0,0.2)" stroke-width="0.35"/><path d="M406.63 54.42 C407.10 53.04 407.83 52.87 408.69 52.35 C409.56 51.84 410.59 51.54 411.80 51.32 C413.00 51.10 414.55 51.02 415.93 51.06 C417.31 51.10 418.86 51.19 420.07 51.58 C421.27 51.97 422.31 52.57 423.17 53.39 C424.03 54.21 424.59 55.28 425.24 56.49 C425.88 57.70 426.53 59.07 427.05 60.63 C427.56 62.18 428.04 64.07 428.34 65.80 C428.64 67.52 428.86 69.24 428.86 70.97 C428.86 72.69 428.64 74.41 428.34 76.14 C428.04 77.86 427.52 79.67 427.05 81.31 C426.57 82.94 426.06 84.58 425.50 85.96 C424.94 87.34 424.42 88.54 423.69 89.58 C422.95 90.61 422.22 91.60 421.10 92.16 C419.98 92.72 418.34 93.20 416.97 92.94 C415.59 92.68 414.04 91.60 412.83 90.61 C411.62 89.62 410.59 88.37 409.73 86.99 C408.87 85.61 408.22 84.15 407.66 82.34 C407.10 80.53 406.67 78.46 406.37 76.14 C406.07 73.81 405.94 70.97 405.85 68.38 C405.76 65.80 405.72 62.95 405.85 60.63 C405.98 58.30 406.15 55.80 406.63 54.42Z" fill="rgba(0,0,0,0.0)" stroke="rgba(0,0,0,0.2)" stroke-width="0.35"/><path d="M400.00 38.00 C399.67 40.83 398.25 49.33 398.00 55.00 C397.75 60.67 398.08 66.50 398.50 72.00 C398.92 77.50 399.58 83.33 400.50 88.00 C401.42 92.67 403.42 98.00 404.00 100.00" fill="none" stroke="rgba(0,0,0,0.18)" stroke-width="0.4"/><path d="M401.80 39.00 C401.47 41.67 400.05 49.50 399.80 55.00 C399.55 60.50 399.88 66.50 400.30 72.00 C400.72 77.50 401.38 83.25 402.30 88.00 C403.22 92.75 405.22 98.42 405.80 100.50" fill="none" stroke="rgba(0,0,0,0.18)" stroke-width="0.4"/><path d="M403.60 40.00 C403.27 42.50 401.85 49.67 401.60 55.00 C401.35 60.33 401.68 66.50 402.10 72.00 C402.52 77.50 403.18 83.17 404.10 88.00 C405.02 92.83 407.02 98.83 407.60 101.00" fill="none" stroke="rgba(0,0,0,0.18)" stroke-width="0.4"/><path d="M405.40 41.00 C405.07 43.33 403.65 49.83 403.40 55.00 C403.15 60.17 403.48 66.50 403.90 72.00 C404.32 77.50 404.98 83.08 405.90 88.00 C406.82 92.92 408.82 99.25 409.40 101.50" fill="none" stroke="rgba(0,0,0,0.18)" stroke-width="0.4"/><path d="M407.20 42.00 C406.87 44.17 405.45 50.00 405.20 55.00 C404.95 60.00 405.28 66.50 405.70 72.00 C406.12 77.50 406.78 83.00 407.70 88.00 C408.62 93.00 410.62 99.67 411.20 102.00" fill="none" stroke="rgba(0,0,0,0.18)" stroke-width="0.4"/><path d="M409.00 43.00 C408.67 45.00 407.25 50.17 407.00 55.00 C406.75 59.83 407.08 66.50 407.50 72.00 C407.92 77.50 408.58 82.92 409.50 88.00 C410.42 93.08 412.42 100.08 413.00 102.50" fill="none" stroke="rgba(0,0,0,0.18)" stroke-width="0.4"/><path d="M395.50 42.00 C396.17 40.92 397.75 37.00 399.50 35.50 C401.25 34.00 403.58 33.48 406.00 33.00 C408.42 32.52 411.33 32.50 414.00 32.60 C416.67 32.70 419.75 32.87 422.00 33.60 C424.25 34.33 425.92 35.43 427.50 37.00 C429.08 38.57 430.25 40.67 431.50 43.00 C432.75 45.33 434.03 48.00 435.00 51.00 C435.97 54.00 436.80 57.67 437.30 61.00 C437.80 64.33 438.05 67.67 438.00 71.00 C437.95 74.33 437.58 77.67 437.00 81.00 C436.42 84.33 435.42 87.92 434.50 91.00 C433.58 94.08 432.67 96.92 431.50 99.50 C430.33 102.08 428.17 105.33 427.50 106.50" fill="none" stroke="rgba(0,0,0,0.8)" stroke-width="3.6" stroke-linecap="round" filter="url(#b07)"/><path d="M395.50 58.00 C395.50 60.67 395.17 69.00 395.50 74.00 C395.83 79.00 396.42 83.67 397.50 88.00 C398.58 92.33 401.25 98.00 402.00 100.00" fill="none" stroke="rgba(0,0,0,0.12)" stroke-width="2.5" stroke-linecap="round" filter="url(#b1)"/><path d="M428.00 44.00 C428.58 45.67 430.58 50.33 431.50 54.00 C432.42 57.67 433.17 61.67 433.50 66.00 C433.83 70.33 433.92 75.67 433.50 80.00 C433.08 84.33 432.08 88.50 431.00 92.00 C429.92 95.50 427.67 99.50 427.00 101.00" fill="none" stroke="rgba(0,0,0,0.3)" stroke-width="2.0" stroke-linecap="round" filter="url(#b07)"/><path d="M413.00 36.50 C414.00 37.25 417.17 38.58 419.00 41.00 C420.83 43.42 422.50 47.17 424.00 51.00 C425.50 54.83 426.95 59.50 428.00 64.00 C429.05 68.50 429.97 73.67 430.30 78.00 C430.63 82.33 430.55 86.50 430.00 90.00 C429.45 93.50 428.50 96.92 427.00 99.00 C425.50 101.08 422.92 102.33 421.00 102.50 C419.08 102.67 416.42 100.42 415.50 100.00" fill="none" stroke="rgba(0,0,0,0.6)" stroke-width="3.0" stroke-linecap="round" filter="url(#b07)"/><path d="M407.00 41.00 C407.25 42.83 407.92 48.17 408.50 52.00 C409.08 55.83 409.75 60.00 410.50 64.00 C411.25 68.00 412.33 72.00 413.00 76.00 C413.67 80.00 414.08 84.33 414.50 88.00 C414.92 91.67 415.33 96.33 415.50 98.00" fill="none" stroke="rgba(0,0,0,0.3)" stroke-width="2.4" stroke-linecap="round" filter="url(#b07)"/><path d="M410.50 40.50 C411.00 41.58 412.50 44.58 413.50 47.00 C414.50 49.42 415.58 52.33 416.50 55.00 C417.42 57.67 418.33 60.67 419.00 63.00 C419.67 65.33 420.25 68.00 420.50 69.00" fill="none" stroke="rgba(255,255,255,0.85)" stroke-width="1.6" stroke-linecap="round"/><path d="M416.50 72.00 C417.33 69.58 419.08 69.00 420.50 69.50 C421.92 70.00 423.75 72.42 425.00 75.00 C426.25 77.58 427.58 81.83 428.00 85.00 C428.42 88.17 428.33 91.83 427.50 94.00 C426.67 96.17 424.58 98.00 423.00 98.00 C421.42 98.00 419.25 96.33 418.00 94.00 C416.75 91.67 415.75 87.67 415.50 84.00 C415.25 80.33 415.67 74.42 416.50 72.00Z" fill="rgba(255,255,255,0.65)"/><path d="M419.00 74.00 C419.42 75.33 420.92 79.33 421.50 82.00 C422.08 84.67 422.33 88.67 422.50 90.00" fill="none" stroke="rgba(255,255,255,0.6)" stroke-width="1.2" stroke-linecap="round"/></g><path d="M395.3 16.9 V110.5" stroke="#404040" stroke-width="1.5"/><path d="M359.4 59.3 H452.6" stroke="#3a3a3a" stroke-width="1.5"/><rect x="359.4" y="16.9" width="93.20" height="93.60" fill="none" stroke="#a0a0a0" stroke-width="1.4"/><g font-family="Liberation Sans" font-size="3.9" fill="#333" stroke="#333" stroke-width="0.15"><text x="361.60" y="23.90">Q1</text><text x="448.30" y="23.90" text-anchor="end">Q2</text><text x="361.60" y="106.20">Q4</text><text x="448.30" y="106.20" text-anchor="end">Q3</text></g><g clip-path="url(#c2)"><path d="M292.00 158.00 C292.75 157.17 296.00 159.50 299.00 160.00 C302.00 160.50 306.17 161.00 310.00 161.00 C313.83 161.00 319.33 159.67 322.00 160.00 C324.67 160.33 325.75 161.33 326.00 163.00 C326.25 164.67 324.67 167.67 323.50 170.00 C322.33 172.33 320.83 175.33 319.00 177.00 C317.17 178.67 314.67 179.83 312.50 180.00 C310.33 180.17 308.08 179.50 306.00 178.00 C303.92 176.50 301.92 173.17 300.00 171.00 C298.08 168.83 295.83 167.17 294.50 165.00 C293.17 162.83 291.25 158.83 292.00 158.00Z" fill="rgba(0,0,0,0.035)" stroke="rgba(0,0,0,0.55)" stroke-width="0.45"/><path d="M295.68 158.88 C296.29 158.19 298.98 160.11 301.45 160.53 C303.92 160.94 307.36 161.35 310.52 161.35 C313.69 161.35 318.23 160.25 320.43 160.53 C322.62 160.80 323.52 161.62 323.73 163.00 C323.93 164.38 322.62 166.85 321.66 168.78 C320.70 170.70 319.46 173.18 317.95 174.55 C316.44 175.93 314.38 176.89 312.59 177.03 C310.80 177.16 308.94 176.61 307.23 175.38 C305.51 174.14 303.86 171.39 302.27 169.60 C300.69 167.81 298.84 166.44 297.74 164.65 C296.64 162.86 295.06 159.56 295.68 158.88Z" fill="rgba(0,0,0,0.035)" stroke="rgba(0,0,0,0.55)" stroke-width="0.45"/><path d="M299.35 159.75 C299.84 159.21 301.95 160.73 303.90 161.05 C305.85 161.38 308.56 161.70 311.05 161.70 C313.54 161.70 317.12 160.83 318.85 161.05 C320.58 161.27 321.29 161.92 321.45 163.00 C321.61 164.08 320.58 166.03 319.82 167.55 C319.07 169.07 318.09 171.02 316.90 172.10 C315.71 173.18 314.08 173.94 312.68 174.05 C311.27 174.16 309.80 173.72 308.45 172.75 C307.10 171.78 305.80 169.61 304.55 168.20 C303.30 166.79 301.84 165.71 300.98 164.30 C300.11 162.89 298.86 160.29 299.35 159.75Z" fill="rgba(0,0,0,0.035)" stroke="rgba(0,0,0,0.55)" stroke-width="0.45"/><path d="M303.02 160.62 C303.38 160.23 304.93 161.34 306.35 161.57 C307.78 161.81 309.75 162.05 311.57 162.05 C313.40 162.05 316.01 161.42 317.27 161.57 C318.54 161.73 319.06 162.21 319.18 163.00 C319.29 163.79 318.54 165.22 317.99 166.32 C317.43 167.43 316.72 168.86 315.85 169.65 C314.98 170.44 313.79 171.00 312.76 171.07 C311.73 171.15 310.66 170.84 309.68 170.12 C308.69 169.41 307.74 167.83 306.82 166.80 C305.91 165.77 304.85 164.98 304.21 163.95 C303.58 162.92 302.67 161.02 303.02 160.62Z" fill="rgba(0,0,0,0.035)" stroke="rgba(0,0,0,0.55)" stroke-width="0.45"/><path d="M306.70 161.50 C306.93 161.25 307.90 161.95 308.80 162.10 C309.70 162.25 310.95 162.40 312.10 162.40 C313.25 162.40 314.90 162.00 315.70 162.10 C316.50 162.20 316.82 162.50 316.90 163.00 C316.97 163.50 316.50 164.40 316.15 165.10 C315.80 165.80 315.35 166.70 314.80 167.20 C314.25 167.70 313.50 168.05 312.85 168.10 C312.20 168.15 311.52 167.95 310.90 167.50 C310.27 167.05 309.68 166.05 309.10 165.40 C308.53 164.75 307.85 164.25 307.45 163.60 C307.05 162.95 306.47 161.75 306.70 161.50Z" fill="rgba(0,0,0,0.035)" stroke="rgba(0,0,0,0.55)" stroke-width="0.45"/><path d="M292.00 149.50 C291.00 149.67 287.83 149.83 286.00 150.50 C284.17 151.17 282.00 152.33 281.00 153.50 C280.00 154.67 279.50 156.50 280.00 157.50 C280.50 158.50 282.00 159.12 284.00 159.50 C286.00 159.88 290.67 159.75 292.00 159.80" fill="none" stroke="rgba(0,0,0,0.5)" stroke-width="0.45"/><path d="M292.00 152.50 C291.33 152.62 289.17 152.62 288.00 153.20 C286.83 153.78 285.00 155.20 285.00 156.00 C285.00 156.80 286.67 157.67 288.00 158.00 C289.33 158.33 292.17 158.00 293.00 158.00" fill="none" stroke="rgba(0,0,0,0.4)" stroke-width="0.45"/><path d="M283.00 151.50 L281.00 155.00" fill="none" stroke="rgba(0,0,0,0.4)" stroke-width="0.45"/><path d="M255.00 149.00 C255.50 149.13 257.17 149.22 258.00 149.80 C258.83 150.38 259.75 151.38 260.00 152.50 C260.25 153.62 260.33 155.58 259.50 156.50 C258.67 157.42 255.75 157.75 255.00 158.00" fill="none" stroke="rgba(0,0,0,0.5)" stroke-width="0.45"/><path d="M255.00 151.50 C255.37 151.62 256.70 151.70 257.20 152.20 C257.70 152.70 258.37 153.87 258.00 154.50 C257.63 155.13 255.50 155.75 255.00 156.00" fill="none" stroke="rgba(0,0,0,0.4)" stroke-width="0.45"/><path d="M293.50 144.00 C295.08 142.50 298.08 141.75 300.50 141.00 C302.92 140.25 305.58 139.83 308.00 139.50 C310.42 139.17 312.17 138.75 315.00 139.00 C317.83 139.25 322.17 139.78 325.00 141.00 C327.83 142.22 330.67 144.23 332.00 146.30 C333.33 148.37 333.50 151.37 333.00 153.40 C332.50 155.43 330.83 157.15 329.00 158.50 C327.17 159.85 325.17 160.83 322.00 161.50 C318.83 162.17 314.00 162.50 310.00 162.50 C306.00 162.50 301.08 162.25 298.00 161.50 C294.92 160.75 292.67 159.92 291.50 158.00 C290.33 156.08 290.67 152.33 291.00 150.00 C291.33 147.67 291.92 145.50 293.50 144.00Z" fill="rgba(0,0,0,0.075)" stroke="rgba(0,0,0,0.25)" stroke-width="0.35"/><path d="M294.89 144.34 C296.35 142.94 299.13 142.25 301.36 141.55 C303.60 140.85 306.06 140.46 308.30 140.15 C310.54 139.84 312.15 139.45 314.77 139.68 C317.40 139.92 321.40 140.41 324.02 141.55 C326.65 142.68 329.27 144.56 330.50 146.48 C331.73 148.41 331.89 151.20 331.43 153.10 C330.96 154.99 329.42 156.59 327.73 157.85 C326.03 159.11 324.18 160.02 321.25 160.65 C318.32 161.27 313.85 161.58 310.15 161.58 C306.45 161.58 301.90 161.34 299.05 160.65 C296.20 159.95 294.12 159.17 293.04 157.38 C291.96 155.60 292.27 152.11 292.57 149.93 C292.88 147.76 293.42 145.74 294.89 144.34Z" fill="rgba(0,0,0,0.075)" stroke="rgba(0,0,0,0.25)" stroke-width="0.35"/><path d="M296.27 144.68 C297.62 143.39 300.17 142.74 302.23 142.09 C304.28 141.45 306.55 141.09 308.60 140.80 C310.65 140.51 312.14 140.15 314.55 140.37 C316.96 140.58 320.64 141.04 323.05 142.09 C325.46 143.14 327.87 144.88 329.00 146.67 C330.13 148.45 330.28 151.04 329.85 152.80 C329.43 154.55 328.01 156.04 326.45 157.20 C324.89 158.37 323.19 159.22 320.50 159.79 C317.81 160.37 313.70 160.66 310.30 160.66 C306.90 160.66 302.72 160.44 300.10 159.79 C297.48 159.14 295.57 158.42 294.57 156.77 C293.58 155.12 293.87 151.88 294.15 149.86 C294.43 147.85 294.93 145.98 296.27 144.68Z" fill="rgba(0,0,0,0.075)" stroke="rgba(0,0,0,0.25)" stroke-width="0.35"/><path d="M297.66 145.03 C298.89 143.83 301.21 143.24 303.09 142.64 C304.96 142.04 307.03 141.71 308.90 141.45 C310.77 141.18 312.13 140.85 314.32 141.05 C316.52 141.25 319.88 141.67 322.07 142.64 C324.27 143.61 326.47 145.21 327.50 146.85 C328.53 148.50 328.66 150.88 328.27 152.50 C327.89 154.11 326.60 155.48 325.18 156.55 C323.75 157.63 322.20 158.41 319.75 158.94 C317.30 159.47 313.55 159.73 310.45 159.73 C307.35 159.73 303.54 159.53 301.15 158.94 C298.76 158.34 297.02 157.68 296.11 156.16 C295.21 154.63 295.47 151.65 295.73 149.79 C295.98 147.94 296.44 146.22 297.66 145.03Z" fill="rgba(0,0,0,0.075)" stroke="rgba(0,0,0,0.25)" stroke-width="0.35"/><path d="M299.05 145.37 C300.16 144.28 302.26 143.73 303.95 143.19 C305.64 142.64 307.51 142.34 309.20 142.10 C310.89 141.85 312.12 141.55 314.10 141.73 C316.08 141.91 319.12 142.30 321.10 143.19 C323.08 144.07 325.07 145.54 326.00 147.04 C326.93 148.54 327.05 150.72 326.70 152.20 C326.35 153.67 325.18 154.92 323.90 155.90 C322.62 156.88 321.22 157.60 319.00 158.08 C316.78 158.57 313.40 158.81 310.60 158.81 C307.80 158.81 304.36 158.63 302.20 158.08 C300.04 157.54 298.47 156.93 297.65 155.54 C296.83 154.15 297.07 151.42 297.30 149.73 C297.53 148.03 297.94 146.46 299.05 145.37Z" fill="rgba(0,0,0,0.075)" stroke="rgba(0,0,0,0.25)" stroke-width="0.35"/><path d="M300.44 145.71 C301.43 144.72 303.30 144.23 304.81 143.73 C306.32 143.24 307.99 142.97 309.50 142.75 C311.01 142.53 312.10 142.25 313.88 142.42 C315.65 142.58 318.35 142.93 320.12 143.73 C321.90 144.53 323.67 145.86 324.50 147.22 C325.33 148.58 325.44 150.56 325.12 151.90 C324.81 153.24 323.77 154.37 322.62 155.25 C321.48 156.14 320.23 156.79 318.25 157.23 C316.27 157.67 313.25 157.89 310.75 157.89 C308.25 157.89 305.18 157.72 303.25 157.23 C301.32 156.74 299.92 156.19 299.19 154.93 C298.46 153.66 298.67 151.19 298.88 149.66 C299.08 148.12 299.45 146.70 300.44 145.71Z" fill="rgba(0,0,0,0.075)" stroke="rgba(0,0,0,0.25)" stroke-width="0.35"/><path d="M301.82 146.05 C302.70 145.17 304.35 144.72 305.68 144.28 C307.00 143.84 308.47 143.59 309.80 143.40 C311.13 143.20 312.09 142.95 313.65 143.10 C315.21 143.25 317.59 143.56 319.15 144.28 C320.71 145.00 322.27 146.19 323.00 147.41 C323.73 148.63 323.82 150.40 323.55 151.60 C323.28 152.80 322.36 153.81 321.35 154.60 C320.34 155.40 319.24 155.98 317.50 156.38 C315.76 156.77 313.10 156.97 310.90 156.97 C308.70 156.97 306.00 156.82 304.30 156.38 C302.60 155.93 301.37 155.44 300.73 154.31 C300.08 153.18 300.27 150.97 300.45 149.59 C300.63 148.21 300.95 146.94 301.82 146.05Z" fill="rgba(0,0,0,0.075)" stroke="rgba(0,0,0,0.25)" stroke-width="0.35"/><path d="M303.21 146.39 C303.96 145.61 305.39 145.22 306.54 144.83 C307.69 144.44 308.95 144.22 310.10 144.04 C311.25 143.87 312.08 143.65 313.43 143.78 C314.77 143.91 316.83 144.19 318.18 144.83 C319.52 145.46 320.87 146.51 321.50 147.59 C322.13 148.67 322.21 150.23 321.98 151.30 C321.74 152.36 320.95 153.25 320.07 153.96 C319.20 154.66 318.25 155.17 316.75 155.52 C315.25 155.87 312.95 156.04 311.05 156.04 C309.15 156.04 306.81 155.91 305.35 155.52 C303.89 155.13 302.82 154.69 302.26 153.69 C301.71 152.70 301.87 150.74 302.02 149.52 C302.18 148.30 302.46 147.17 303.21 146.39Z" fill="rgba(0,0,0,0.075)" stroke="rgba(0,0,0,0.25)" stroke-width="0.35"/><path d="M304.60 146.73 C305.23 146.05 306.43 145.71 307.40 145.37 C308.37 145.03 309.43 144.84 310.40 144.69 C311.37 144.54 312.07 144.35 313.20 144.47 C314.33 144.58 316.07 144.82 317.20 145.37 C318.33 145.92 319.47 146.84 320.00 147.78 C320.53 148.71 320.60 150.07 320.40 150.99 C320.20 151.92 319.53 152.69 318.80 153.31 C318.07 153.92 317.27 154.36 316.00 154.67 C314.73 154.97 312.80 155.12 311.20 155.12 C309.60 155.12 307.63 155.01 306.40 154.67 C305.17 154.33 304.27 153.95 303.80 153.08 C303.33 152.21 303.47 150.51 303.60 149.45 C303.73 148.40 303.97 147.41 304.60 146.73Z" fill="rgba(0,0,0,0.075)" stroke="rgba(0,0,0,0.25)" stroke-width="0.35"/><path d="M305.99 147.07 C306.50 146.50 307.48 146.21 308.26 145.92 C309.05 145.63 309.91 145.47 310.70 145.34 C311.49 145.21 312.05 145.05 312.98 145.15 C313.90 145.25 315.30 145.45 316.23 145.92 C317.15 146.39 318.07 147.16 318.50 147.96 C318.93 148.76 318.99 149.91 318.82 150.69 C318.66 151.48 318.12 152.14 317.52 152.66 C316.93 153.18 316.28 153.56 315.25 153.81 C314.22 154.07 312.65 154.20 311.35 154.20 C310.05 154.20 308.45 154.10 307.45 153.81 C306.45 153.52 305.72 153.20 305.34 152.47 C304.96 151.73 305.07 150.28 305.18 149.38 C305.28 148.49 305.47 147.65 305.99 147.07Z" fill="rgba(0,0,0,0.075)" stroke="rgba(0,0,0,0.25)" stroke-width="0.35"/><path d="M307.38 147.42 C307.77 146.94 308.52 146.70 309.12 146.47 C309.73 146.23 310.40 146.10 311.00 145.99 C311.60 145.89 312.04 145.75 312.75 145.83 C313.46 145.91 314.54 146.08 315.25 146.47 C315.96 146.85 316.67 147.49 317.00 148.15 C317.33 148.80 317.38 149.75 317.25 150.39 C317.12 151.04 316.71 151.58 316.25 152.01 C315.79 152.44 315.29 152.75 314.50 152.96 C313.71 153.17 312.50 153.28 311.50 153.28 C310.50 153.28 309.27 153.20 308.50 152.96 C307.73 152.72 307.17 152.46 306.88 151.85 C306.58 151.24 306.67 150.06 306.75 149.32 C306.83 148.58 306.98 147.89 307.38 147.42Z" fill="rgba(0,0,0,0.075)" stroke="rgba(0,0,0,0.25)" stroke-width="0.35"/><path d="M308.76 147.76 C309.04 147.39 309.56 147.20 309.99 147.01 C310.41 146.83 310.88 146.72 311.30 146.64 C311.72 146.56 312.03 146.45 312.52 146.52 C313.02 146.58 313.78 146.71 314.27 147.01 C314.77 147.32 315.27 147.82 315.50 148.33 C315.73 148.84 315.76 149.59 315.68 150.09 C315.59 150.60 315.30 151.02 314.98 151.36 C314.65 151.69 314.30 151.94 313.75 152.10 C313.20 152.27 312.35 152.35 311.65 152.35 C310.95 152.35 310.09 152.29 309.55 152.10 C309.01 151.92 308.62 151.71 308.41 151.24 C308.21 150.76 308.27 149.83 308.32 149.25 C308.38 148.67 308.49 148.13 308.76 147.76Z" fill="rgba(0,0,0,0.075)" stroke="rgba(0,0,0,0.25)" stroke-width="0.35"/><path d="M310.15 148.10 C310.31 147.83 310.61 147.69 310.85 147.56 C311.09 147.43 311.36 147.35 311.60 147.29 C311.84 147.23 312.02 147.15 312.30 147.20 C312.58 147.25 313.02 147.34 313.30 147.56 C313.58 147.78 313.87 148.14 314.00 148.51 C314.13 148.89 314.15 149.43 314.10 149.79 C314.05 150.16 313.88 150.47 313.70 150.71 C313.52 150.95 313.32 151.13 313.00 151.25 C312.68 151.37 312.20 151.43 311.80 151.43 C311.40 151.43 310.91 151.38 310.60 151.25 C310.29 151.12 310.07 150.97 309.95 150.62 C309.83 150.28 309.87 149.60 309.90 149.18 C309.93 148.76 309.99 148.37 310.15 148.10Z" fill="rgba(0,0,0,0.075)" stroke="rgba(0,0,0,0.25)" stroke-width="0.35"/><ellipse cx="312" cy="148" rx="8" ry="4.5" fill="rgba(0,0,0,0.38)" filter="url(#b1)"/><ellipse cx="312.7" cy="153.2" rx="1.5" ry="1" fill="rgba(255,255,255,0.85)" /><path d="M324.80 183.00 C325.97 182.75 327.55 183.83 328.50 185.00 C329.45 186.17 330.25 188.17 330.50 190.00 C330.75 191.83 330.67 194.42 330.00 196.00 C329.33 197.58 327.75 199.17 326.50 199.50 C325.25 199.83 323.53 199.17 322.50 198.00 C321.47 196.83 320.47 194.42 320.30 192.50 C320.13 190.58 320.75 188.08 321.50 186.50 C322.25 184.92 323.63 183.25 324.80 183.00Z" fill="rgba(0,0,0,0.02)" stroke="rgba(0,0,0,0.65)" stroke-width="0.5"/><path d="M324.93 185.12 C325.80 184.94 326.99 185.75 327.70 186.62 C328.41 187.50 329.01 189.00 329.20 190.38 C329.39 191.75 329.32 193.69 328.82 194.88 C328.32 196.06 327.14 197.25 326.20 197.50 C325.26 197.75 323.97 197.25 323.20 196.38 C322.43 195.50 321.68 193.69 321.55 192.25 C321.43 190.81 321.89 188.94 322.45 187.75 C323.01 186.56 324.05 185.31 324.93 185.12Z" fill="rgba(0,0,0,0.02)" stroke="rgba(0,0,0,0.65)" stroke-width="0.5"/><path d="M325.05 187.25 C325.63 187.12 326.42 187.67 326.90 188.25 C327.38 188.83 327.77 189.83 327.90 190.75 C328.02 191.67 327.98 192.96 327.65 193.75 C327.32 194.54 326.52 195.33 325.90 195.50 C325.27 195.67 324.42 195.33 323.90 194.75 C323.38 194.17 322.88 192.96 322.80 192.00 C322.72 191.04 323.02 189.79 323.40 189.00 C323.77 188.21 324.47 187.38 325.05 187.25Z" fill="rgba(0,0,0,0.02)" stroke="rgba(0,0,0,0.65)" stroke-width="0.5"/><path d="M325.18 189.38 C325.47 189.31 325.86 189.58 326.10 189.88 C326.34 190.17 326.54 190.67 326.60 191.12 C326.66 191.58 326.64 192.23 326.48 192.62 C326.31 193.02 325.91 193.42 325.60 193.50 C325.29 193.58 324.86 193.42 324.60 193.12 C324.34 192.83 324.09 192.23 324.05 191.75 C324.01 191.27 324.16 190.65 324.35 190.25 C324.54 189.85 324.88 189.44 325.18 189.38Z" fill="rgba(0,0,0,0.02)" stroke="rgba(0,0,0,0.65)" stroke-width="0.5"/></g><path d="M291.0 117.4 V210.7" stroke="#808080" stroke-width="2.0"/><path d="M254.9 159.35 H348.45" stroke="#474747" stroke-width="1.6"/><rect x="254.9" y="117.4" width="93.55" height="93.30" fill="none" stroke="#a0a0a0" stroke-width="1.4"/><g font-family="Liberation Sans" font-size="3.9" fill="#333" stroke="#333" stroke-width="0.15"><text x="257.10" y="124.40">Q1</text><text x="344.15" y="124.40" text-anchor="end">Q2</text><text x="257.10" y="206.40">Q4</text><text x="344.15" y="206.40" text-anchor="end">Q3</text></g><g clip-path="url(#c3)"><path d="M359.00 144.50 C360.25 144.75 361.58 144.50 362.50 145.50 C363.42 146.50 364.33 148.75 364.50 150.50 C364.67 152.25 364.33 154.75 363.50 156.00 C362.67 157.25 360.92 157.67 359.50 158.00 C358.08 158.33 355.75 160.33 355.00 158.00 C354.25 155.67 354.33 146.25 355.00 144.00 C355.67 141.75 357.75 144.25 359.00 144.50Z" fill="rgba(0,0,0,0.12)" stroke="rgba(0,0,0,0.5)" stroke-width="0.45"/><path d="M359.07 145.41 C360.14 145.62 361.29 145.41 362.08 146.27 C362.87 147.13 363.66 149.06 363.80 150.57 C363.94 152.07 363.66 154.23 362.94 155.30 C362.22 156.38 360.72 156.73 359.50 157.02 C358.28 157.31 356.27 159.03 355.63 157.02 C354.99 155.01 355.06 146.91 355.63 144.98 C356.20 143.04 358.00 145.19 359.07 145.41Z" fill="rgba(0,0,0,0.12)" stroke="rgba(0,0,0,0.5)" stroke-width="0.45"/><path d="M359.14 146.32 C360.04 146.50 361.00 146.32 361.66 147.04 C362.32 147.76 362.98 149.38 363.10 150.64 C363.22 151.90 362.98 153.70 362.38 154.60 C361.78 155.50 360.52 155.80 359.50 156.04 C358.48 156.28 356.80 157.72 356.26 156.04 C355.72 154.36 355.78 147.58 356.26 145.96 C356.74 144.34 358.24 146.14 359.14 146.32Z" fill="rgba(0,0,0,0.12)" stroke="rgba(0,0,0,0.5)" stroke-width="0.45"/><path d="M359.21 147.23 C359.94 147.38 360.71 147.23 361.24 147.81 C361.77 148.39 362.30 149.69 362.40 150.71 C362.50 151.73 362.30 153.18 361.82 153.90 C361.34 154.62 360.32 154.87 359.50 155.06 C358.68 155.25 357.32 156.41 356.89 155.06 C356.45 153.71 356.50 148.25 356.89 146.94 C357.28 145.63 358.48 147.08 359.21 147.23Z" fill="rgba(0,0,0,0.12)" stroke="rgba(0,0,0,0.5)" stroke-width="0.45"/><path d="M359.28 148.14 C359.83 148.25 360.42 148.14 360.82 148.58 C361.22 149.02 361.63 150.01 361.70 150.78 C361.77 151.55 361.63 152.65 361.26 153.20 C360.89 153.75 360.12 153.93 359.50 154.08 C358.88 154.23 357.85 155.11 357.52 154.08 C357.19 153.05 357.23 148.91 357.52 147.92 C357.81 146.93 358.73 148.03 359.28 148.14Z" fill="rgba(0,0,0,0.12)" stroke="rgba(0,0,0,0.5)" stroke-width="0.45"/><path d="M359.35 149.05 C359.73 149.12 360.12 149.05 360.40 149.35 C360.67 149.65 360.95 150.32 361.00 150.85 C361.05 151.38 360.95 152.12 360.70 152.50 C360.45 152.88 359.93 153.00 359.50 153.10 C359.07 153.20 358.38 153.80 358.15 153.10 C357.92 152.40 357.95 149.57 358.15 148.90 C358.35 148.23 358.98 148.98 359.35 149.05Z" fill="rgba(0,0,0,0.12)" stroke="rgba(0,0,0,0.5)" stroke-width="0.45"/><path d="M393.50 154.70 C393.85 153.00 395.33 149.60 396.50 148.00 C397.67 146.40 398.38 146.17 400.50 145.10 C402.62 144.03 406.00 142.33 409.20 141.60 C412.40 140.87 416.80 140.42 419.70 140.70 C422.60 140.98 424.13 142.42 426.60 143.30 C429.07 144.18 432.60 144.98 434.50 146.00 C436.40 147.02 437.85 148.25 438.00 149.40 C438.15 150.55 436.87 151.88 435.40 152.90 C433.93 153.92 430.95 154.33 429.20 155.50 C427.45 156.67 426.48 158.43 424.90 159.90 C423.32 161.37 421.45 163.03 419.70 164.30 C417.95 165.57 415.43 166.13 414.40 167.50 C413.37 168.87 414.15 171.00 413.50 172.50 C412.85 174.00 411.65 176.25 410.50 176.50 C409.35 176.75 407.43 175.32 406.60 174.00 C405.77 172.68 406.52 170.08 405.50 168.60 C404.48 167.12 401.92 166.25 400.50 165.10 C399.08 163.95 398.02 162.85 397.00 161.70 C395.98 160.55 394.98 159.37 394.40 158.20 C393.82 157.03 393.15 156.40 393.50 154.70Z" fill="rgba(0,0,0,0.07)" stroke="rgba(0,0,0,0.4)" stroke-width="0.4"/><path d="M394.52 154.56 C394.86 152.95 396.27 149.72 397.38 148.20 C398.48 146.68 399.16 146.46 401.18 145.44 C403.19 144.43 406.40 142.82 409.44 142.12 C412.48 141.42 416.66 141.00 419.41 141.26 C422.17 141.53 423.63 142.90 425.97 143.74 C428.31 144.57 431.67 145.33 433.48 146.30 C435.28 147.27 436.66 148.44 436.80 149.53 C436.94 150.62 435.72 151.89 434.33 152.86 C432.94 153.82 430.10 154.22 428.44 155.32 C426.78 156.43 425.86 158.11 424.35 159.50 C422.85 160.90 421.08 162.48 419.41 163.69 C417.75 164.89 415.36 165.43 414.38 166.72 C413.40 168.02 414.14 170.05 413.52 171.47 C412.91 172.90 411.77 175.04 410.68 175.28 C409.58 175.51 407.76 174.15 406.97 172.90 C406.18 171.65 406.89 169.18 405.93 167.77 C404.96 166.36 402.52 165.54 401.18 164.44 C399.83 163.35 398.82 162.31 397.85 161.21 C396.88 160.12 395.93 159.00 395.38 157.89 C394.83 156.78 394.19 156.18 394.52 154.56Z" fill="rgba(0,0,0,0.07)" stroke="rgba(0,0,0,0.4)" stroke-width="0.4"/><path d="M395.55 154.43 C395.87 152.90 397.20 149.84 398.25 148.40 C399.30 146.96 399.95 146.75 401.85 145.79 C403.75 144.83 406.80 143.30 409.68 142.64 C412.56 141.98 416.52 141.57 419.13 141.83 C421.74 142.08 423.12 143.38 425.34 144.17 C427.56 144.97 430.74 145.69 432.45 146.60 C434.16 147.51 435.47 148.62 435.60 149.66 C435.74 150.69 434.58 151.90 433.26 152.81 C431.94 153.72 429.25 154.10 427.68 155.15 C426.11 156.20 425.24 157.79 423.81 159.11 C422.38 160.43 420.70 161.93 419.13 163.07 C417.56 164.21 415.29 164.72 414.36 165.95 C413.43 167.18 414.13 169.10 413.55 170.45 C412.97 171.80 411.88 173.83 410.85 174.05 C409.82 174.28 408.09 172.99 407.34 171.80 C406.59 170.62 407.27 168.28 406.35 166.94 C405.44 165.60 403.12 164.82 401.85 163.79 C400.58 162.75 399.62 161.76 398.70 160.73 C397.78 159.69 396.88 158.63 396.36 157.58 C395.83 156.53 395.24 155.96 395.55 154.43Z" fill="rgba(0,0,0,0.07)" stroke="rgba(0,0,0,0.4)" stroke-width="0.4"/><path d="M396.57 154.29 C396.87 152.85 398.13 149.96 399.12 148.60 C400.12 147.24 400.73 147.04 402.52 146.13 C404.32 145.23 407.20 143.78 409.92 143.16 C412.64 142.54 416.38 142.15 418.84 142.39 C421.31 142.64 422.61 143.85 424.71 144.61 C426.81 145.36 429.81 146.04 431.43 146.90 C433.04 147.76 434.27 148.81 434.40 149.79 C434.53 150.77 433.44 151.90 432.19 152.77 C430.94 153.63 428.41 153.98 426.92 154.97 C425.43 155.97 424.61 157.47 423.26 158.72 C421.92 159.96 420.33 161.38 418.84 162.46 C417.36 163.53 415.22 164.01 414.34 165.18 C413.46 166.34 414.13 168.15 413.57 169.43 C413.02 170.70 412.00 172.61 411.02 172.82 C410.05 173.04 408.42 171.82 407.71 170.70 C407.00 169.58 407.64 167.37 406.77 166.11 C405.91 164.85 403.73 164.11 402.52 163.13 C401.32 162.16 400.41 161.22 399.55 160.25 C398.69 159.27 397.84 158.26 397.34 157.27 C396.84 156.28 396.28 155.74 396.57 154.29Z" fill="rgba(0,0,0,0.07)" stroke="rgba(0,0,0,0.4)" stroke-width="0.4"/><path d="M397.60 154.16 C397.88 152.80 399.07 150.08 400.00 148.80 C400.93 147.52 401.51 147.33 403.20 146.48 C404.89 145.63 407.60 144.27 410.16 143.68 C412.72 143.09 416.24 142.73 418.56 142.96 C420.88 143.19 422.11 144.33 424.08 145.04 C426.05 145.75 428.88 146.39 430.40 147.20 C431.92 148.01 433.08 149.00 433.20 149.92 C433.32 150.84 432.29 151.91 431.12 152.72 C429.95 153.53 427.56 153.87 426.16 154.80 C424.76 155.73 423.99 157.15 422.72 158.32 C421.45 159.49 419.96 160.83 418.56 161.84 C417.16 162.85 415.15 163.31 414.32 164.40 C413.49 165.49 414.12 167.20 413.60 168.40 C413.08 169.60 412.12 171.40 411.20 171.60 C410.28 171.80 408.75 170.65 408.08 169.60 C407.41 168.55 408.01 166.47 407.20 165.28 C406.39 164.09 404.33 163.40 403.20 162.48 C402.07 161.56 401.21 160.68 400.40 159.76 C399.59 158.84 398.79 157.89 398.32 156.96 C397.85 156.03 397.32 155.52 397.60 154.16Z" fill="rgba(0,0,0,0.07)" stroke="rgba(0,0,0,0.4)" stroke-width="0.4"/><path d="M428.00 145.00 C428.83 143.42 432.42 143.83 434.00 144.50 C435.58 145.17 437.33 147.58 437.50 149.00 C437.67 150.42 436.42 152.17 435.00 153.00 C433.58 153.83 430.17 155.33 429.00 154.00 C427.83 152.67 427.17 146.58 428.00 145.00Z" fill="rgba(0,0,0,0.03)" stroke="rgba(0,0,0,0.35)" stroke-width="0.35"/><path d="M429.00 146.12 C429.62 144.94 432.31 145.25 433.50 145.75 C434.69 146.25 436.00 148.06 436.12 149.12 C436.25 150.19 435.31 151.50 434.25 152.12 C433.19 152.75 430.62 153.88 429.75 152.88 C428.88 151.88 428.38 147.31 429.00 146.12Z" fill="rgba(0,0,0,0.03)" stroke="rgba(0,0,0,0.35)" stroke-width="0.35"/><path d="M430.00 147.25 C430.42 146.46 432.21 146.67 433.00 147.00 C433.79 147.33 434.67 148.54 434.75 149.25 C434.83 149.96 434.21 150.83 433.50 151.25 C432.79 151.67 431.08 152.42 430.50 151.75 C429.92 151.08 429.58 148.04 430.00 147.25Z" fill="rgba(0,0,0,0.03)" stroke="rgba(0,0,0,0.35)" stroke-width="0.35"/><path d="M404.00 166.00 C404.58 164.42 408.17 163.83 410.00 164.00 C411.83 164.17 414.33 165.50 415.00 167.00 C415.67 168.50 414.75 171.50 414.00 173.00 C413.25 174.50 411.75 175.92 410.50 176.00 C409.25 176.08 407.58 175.17 406.50 173.50 C405.42 171.83 403.42 167.58 404.00 166.00Z" fill="rgba(0,0,0,0.05)" stroke="rgba(0,0,0,0.35)" stroke-width="0.35"/><path d="M405.10 166.80 C405.57 165.53 408.43 165.07 409.90 165.20 C411.37 165.33 413.37 166.40 413.90 167.60 C414.43 168.80 413.70 171.20 413.10 172.40 C412.50 173.60 411.30 174.73 410.30 174.80 C409.30 174.87 407.97 174.13 407.10 172.80 C406.23 171.47 404.63 168.07 405.10 166.80Z" fill="rgba(0,0,0,0.05)" stroke="rgba(0,0,0,0.35)" stroke-width="0.35"/><path d="M406.20 167.60 C406.55 166.65 408.70 166.30 409.80 166.40 C410.90 166.50 412.40 167.30 412.80 168.20 C413.20 169.10 412.65 170.90 412.20 171.80 C411.75 172.70 410.85 173.55 410.10 173.60 C409.35 173.65 408.35 173.10 407.70 172.10 C407.05 171.10 405.85 168.55 406.20 167.60Z" fill="rgba(0,0,0,0.05)" stroke="rgba(0,0,0,0.35)" stroke-width="0.35"/><path d="M407.30 168.40 C407.53 167.77 408.97 167.53 409.70 167.60 C410.43 167.67 411.43 168.20 411.70 168.80 C411.97 169.40 411.60 170.60 411.30 171.20 C411.00 171.80 410.40 172.37 409.90 172.40 C409.40 172.43 408.73 172.07 408.30 171.40 C407.87 170.73 407.07 169.03 407.30 168.40Z" fill="rgba(0,0,0,0.05)" stroke="rgba(0,0,0,0.35)" stroke-width="0.35"/><path d="M398.00 152.00 C398.33 149.67 400.00 147.58 402.00 146.00 C404.00 144.42 407.08 143.17 410.00 142.50 C412.92 141.83 416.83 141.67 419.50 142.00 C422.17 142.33 424.42 143.17 426.00 144.50 C427.58 145.83 429.00 147.92 429.00 150.00 C429.00 152.08 427.83 155.00 426.00 157.00 C424.17 159.00 421.00 161.00 418.00 162.00 C415.00 163.00 411.00 163.33 408.00 163.00 C405.00 162.67 401.67 161.83 400.00 160.00 C398.33 158.17 397.67 154.33 398.00 152.00Z" fill="rgba(0,0,0,0.1)" stroke="rgba(0,0,0,0.3)" stroke-width="0.35"/><path d="M399.61 151.95 C399.91 149.84 401.42 147.95 403.23 146.52 C405.04 145.09 407.83 143.95 410.47 143.35 C413.11 142.75 416.66 142.60 419.07 142.90 C421.49 143.20 423.53 143.95 424.96 145.16 C426.39 146.37 427.68 148.26 427.68 150.14 C427.68 152.03 426.62 154.67 424.96 156.48 C423.30 158.29 420.43 160.10 417.72 161.01 C415.00 161.91 411.38 162.22 408.66 161.91 C405.94 161.61 402.93 160.86 401.42 159.20 C399.91 157.54 399.30 154.07 399.61 151.95Z" fill="rgba(0,0,0,0.1)" stroke="rgba(0,0,0,0.3)" stroke-width="0.35"/><path d="M401.21 151.91 C401.48 150.01 402.83 148.32 404.46 147.04 C406.08 145.75 408.58 144.74 410.94 144.20 C413.31 143.66 416.49 143.52 418.65 143.79 C420.81 144.06 422.64 144.74 423.92 145.82 C425.21 146.90 426.36 148.59 426.36 150.28 C426.36 151.97 425.41 154.34 423.92 155.96 C422.44 157.58 419.87 159.21 417.43 160.02 C415.00 160.83 411.76 161.10 409.32 160.83 C406.89 160.56 404.19 159.88 402.83 158.39 C401.48 156.91 400.94 153.80 401.21 151.91Z" fill="rgba(0,0,0,0.1)" stroke="rgba(0,0,0,0.3)" stroke-width="0.35"/><path d="M402.82 151.86 C403.06 150.19 404.25 148.69 405.68 147.56 C407.12 146.42 409.33 145.53 411.42 145.05 C413.51 144.57 416.31 144.45 418.23 144.69 C420.14 144.93 421.75 145.53 422.88 146.48 C424.02 147.44 425.03 148.93 425.03 150.43 C425.03 151.92 424.20 154.01 422.88 155.44 C421.57 156.88 419.30 158.31 417.15 159.03 C415.00 159.74 412.13 159.98 409.98 159.74 C407.83 159.50 405.44 158.91 404.25 157.59 C403.06 156.28 402.58 153.53 402.82 151.86Z" fill="rgba(0,0,0,0.1)" stroke="rgba(0,0,0,0.3)" stroke-width="0.35"/><path d="M404.42 151.81 C404.63 150.36 405.67 149.06 406.91 148.08 C408.16 147.09 410.07 146.31 411.89 145.90 C413.70 145.49 416.14 145.38 417.80 145.59 C419.46 145.80 420.86 146.31 421.84 147.14 C422.83 147.97 423.71 149.27 423.71 150.57 C423.71 151.86 422.99 153.68 421.84 154.92 C420.70 156.17 418.73 157.41 416.87 158.03 C415.00 158.66 412.51 158.86 410.64 158.66 C408.78 158.45 406.70 157.93 405.67 156.79 C404.63 155.65 404.21 153.26 404.42 151.81Z" fill="rgba(0,0,0,0.1)" stroke="rgba(0,0,0,0.3)" stroke-width="0.35"/><path d="M406.03 151.76 C406.20 150.53 407.08 149.43 408.14 148.60 C409.19 147.76 410.82 147.10 412.36 146.75 C413.90 146.40 415.97 146.31 417.38 146.49 C418.78 146.66 419.97 147.10 420.81 147.81 C421.64 148.51 422.39 149.61 422.39 150.71 C422.39 151.81 421.77 153.35 420.81 154.40 C419.84 155.46 418.17 156.51 416.58 157.04 C415.00 157.57 412.89 157.75 411.31 157.57 C409.72 157.39 407.96 156.95 407.08 155.99 C406.20 155.02 405.85 153.00 406.03 151.76Z" fill="rgba(0,0,0,0.1)" stroke="rgba(0,0,0,0.3)" stroke-width="0.35"/><path d="M407.63 151.72 C407.78 150.71 408.50 149.80 409.37 149.12 C410.23 148.43 411.57 147.89 412.83 147.60 C414.10 147.31 415.79 147.24 416.95 147.38 C418.11 147.53 419.08 147.89 419.77 148.47 C420.45 149.04 421.07 149.95 421.07 150.85 C421.07 151.75 420.56 153.02 419.77 153.88 C418.97 154.75 417.60 155.62 416.30 156.05 C415.00 156.48 413.27 156.63 411.97 156.48 C410.67 156.34 409.22 155.98 408.50 155.18 C407.78 154.39 407.49 152.73 407.63 151.72Z" fill="rgba(0,0,0,0.1)" stroke="rgba(0,0,0,0.3)" stroke-width="0.35"/><path d="M409.24 151.67 C409.35 150.88 409.92 150.17 410.59 149.64 C411.27 149.10 412.32 148.68 413.31 148.45 C414.29 148.22 415.62 148.17 416.52 148.28 C417.43 148.39 418.19 148.68 418.73 149.13 C419.26 149.58 419.74 150.29 419.74 150.99 C419.74 151.70 419.35 152.69 418.73 153.36 C418.11 154.04 417.03 154.72 416.02 155.06 C415.00 155.40 413.64 155.51 412.63 155.40 C411.61 155.28 410.48 155.00 409.92 154.38 C409.35 153.76 409.13 152.46 409.24 151.67Z" fill="rgba(0,0,0,0.1)" stroke="rgba(0,0,0,0.3)" stroke-width="0.35"/><path d="M410.84 151.62 C410.93 151.05 411.33 150.54 411.82 150.16 C412.31 149.77 413.06 149.46 413.78 149.30 C414.49 149.14 415.45 149.10 416.10 149.18 C416.75 149.26 417.30 149.46 417.69 149.79 C418.08 150.11 418.42 150.62 418.42 151.13 C418.42 151.64 418.14 152.36 417.69 152.84 C417.24 153.33 416.47 153.82 415.73 154.07 C415.00 154.31 414.02 154.39 413.29 154.31 C412.56 154.23 411.74 154.03 411.33 153.58 C410.93 153.13 410.76 152.19 410.84 151.62Z" fill="rgba(0,0,0,0.1)" stroke="rgba(0,0,0,0.3)" stroke-width="0.35"/><path d="M412.45 151.57 C412.50 151.22 412.75 150.91 413.05 150.68 C413.35 150.44 413.81 150.25 414.25 150.15 C414.69 150.05 415.28 150.02 415.68 150.07 C416.07 150.12 416.41 150.25 416.65 150.45 C416.89 150.65 417.10 150.96 417.10 151.28 C417.10 151.59 416.92 152.02 416.65 152.32 C416.38 152.62 415.90 152.92 415.45 153.07 C415.00 153.22 414.40 153.27 413.95 153.22 C413.50 153.18 413.00 153.05 412.75 152.78 C412.50 152.50 412.40 151.92 412.45 151.57Z" fill="rgba(0,0,0,0.1)" stroke="rgba(0,0,0,0.3)" stroke-width="0.35"/><path d="M398.50 150.00 C399.25 149.17 401.08 146.33 403.00 145.00 C404.92 143.67 407.33 142.58 410.00 142.00 C412.67 141.42 416.33 141.17 419.00 141.50 C421.67 141.83 424.83 143.58 426.00 144.00" fill="none" stroke="rgba(0,0,0,0.45)" stroke-width="2.0" stroke-linecap="round"/><path d="M400.00 160.00 C401.33 160.58 405.00 163.17 408.00 163.50 C411.00 163.83 415.25 162.92 418.00 162.00 C420.75 161.08 423.42 158.67 424.50 158.00" fill="none" stroke="rgba(0,0,0,0.4)" stroke-width="1.6" stroke-linecap="round"/><ellipse cx="416.2" cy="151.5" rx="1.3" ry="1" fill="rgba(255,255,255,0.9)"/><path d="M430.00 169.60 C431.45 169.60 433.47 170.27 434.50 171.50 C435.53 172.73 436.12 175.00 436.20 177.00 C436.28 179.00 435.95 182.08 435.00 183.50 C434.05 184.92 432.08 185.50 430.50 185.50 C428.92 185.50 426.62 184.83 425.50 183.50 C424.38 182.17 423.75 179.50 423.80 177.50 C423.85 175.50 424.77 172.82 425.80 171.50 C426.83 170.18 428.55 169.60 430.00 169.60Z" fill="rgba(0,0,0,0.13)" stroke="rgba(0,0,0,0.6)" stroke-width="0.5"/><path d="M430.00 170.98 C431.20 170.98 432.86 171.53 433.71 172.55 C434.56 173.57 435.05 175.44 435.12 177.09 C435.18 178.74 434.91 181.28 434.12 182.45 C433.34 183.62 431.72 184.10 430.41 184.10 C429.11 184.10 427.21 183.55 426.29 182.45 C425.37 181.35 424.84 179.15 424.88 177.50 C424.93 175.85 425.68 173.64 426.54 172.55 C427.39 171.46 428.80 170.98 430.00 170.98Z" fill="rgba(0,0,0,0.13)" stroke="rgba(0,0,0,0.6)" stroke-width="0.5"/><path d="M430.00 172.37 C430.94 172.37 432.25 172.80 432.93 173.60 C433.60 174.40 433.98 175.88 434.03 177.18 C434.08 178.48 433.87 180.48 433.25 181.40 C432.63 182.32 431.35 182.70 430.32 182.70 C429.30 182.70 427.80 182.27 427.07 181.40 C426.35 180.53 425.94 178.80 425.97 177.50 C426.00 176.20 426.60 174.46 427.27 173.60 C427.94 172.74 429.06 172.37 430.00 172.37Z" fill="rgba(0,0,0,0.13)" stroke="rgba(0,0,0,0.6)" stroke-width="0.5"/><path d="M430.00 173.75 C430.69 173.75 431.65 174.06 432.14 174.65 C432.63 175.24 432.91 176.31 432.94 177.26 C432.98 178.21 432.83 179.68 432.38 180.35 C431.92 181.02 430.99 181.30 430.24 181.30 C429.49 181.30 428.39 180.98 427.86 180.35 C427.33 179.72 427.03 178.45 427.06 177.50 C427.08 176.55 427.51 175.28 428.00 174.65 C428.50 174.02 429.31 173.75 430.00 173.75Z" fill="rgba(0,0,0,0.13)" stroke="rgba(0,0,0,0.6)" stroke-width="0.5"/><path d="M430.00 175.13 C430.44 175.13 431.04 175.33 431.35 175.70 C431.66 176.07 431.84 176.75 431.86 177.35 C431.88 177.95 431.79 178.88 431.50 179.30 C431.21 179.73 430.62 179.90 430.15 179.90 C429.67 179.90 428.98 179.70 428.65 179.30 C428.31 178.90 428.12 178.10 428.14 177.50 C428.15 176.90 428.43 176.09 428.74 175.70 C429.05 175.30 429.56 175.13 430.00 175.13Z" fill="rgba(0,0,0,0.13)" stroke="rgba(0,0,0,0.6)" stroke-width="0.5"/><ellipse cx="430.5" cy="178" rx="1.8" ry="2.8" fill="rgba(255,255,255,0.55)" /><circle cx="415.8" cy="184.3" r="1.3" fill="none" stroke="rgba(0,0,0,0.35)" stroke-width="0.45"/><circle cx="442.3" cy="162" r="1.3" fill="none" stroke="rgba(0,0,0,0.35)" stroke-width="0.45"/></g><path d="M395.3 118.3 V212.0" stroke="#505050" stroke-width="1.4"/><path d="M359.4 160.5 H452.9" stroke="#474747" stroke-width="1.6"/><rect x="359.4" y="118.3" width="93.50" height="93.70" fill="none" stroke="#a0a0a0" stroke-width="1.4"/><g font-family="Liberation Sans" font-size="3.9" fill="#333" stroke="#333" stroke-width="0.15"><text x="361.60" y="125.30">Q1</text><text x="448.60" y="125.30" text-anchor="end">Q2</text><text x="361.60" y="207.70">Q4</text><text x="448.60" y="207.70" text-anchor="end">Q3</text></g><g clip-path="url(#c4)"><path d="M305.50 252.00 C305.33 250.08 306.25 248.70 307.00 247.50 C307.75 246.30 308.65 245.52 310.00 244.80 C311.35 244.08 313.10 243.38 315.10 243.20 C317.10 243.02 319.82 243.27 322.00 243.70 C324.18 244.13 326.45 245.00 328.20 245.80 C329.95 246.60 331.20 247.18 332.50 248.50 C333.80 249.82 335.13 252.03 336.00 253.70 C336.87 255.37 338.03 257.28 337.70 258.50 C337.37 259.72 336.28 260.50 334.00 261.00 C331.72 261.50 327.33 261.42 324.00 261.50 C320.67 261.58 316.67 261.92 314.00 261.50 C311.33 261.08 309.42 260.58 308.00 259.00 C306.58 257.42 305.67 253.92 305.50 252.00Z" fill="rgba(0,0,0,0.035)" stroke="rgba(0,0,0,0.55)" stroke-width="0.42"/><path d="M306.95 252.19 C306.80 250.45 307.63 249.19 308.31 248.11 C308.99 247.02 309.80 246.31 311.03 245.66 C312.25 245.01 313.84 244.37 315.65 244.21 C317.46 244.04 319.93 244.27 321.91 244.66 C323.89 245.05 325.94 245.84 327.53 246.57 C329.11 247.29 330.25 247.82 331.43 249.01 C332.61 250.21 333.81 252.22 334.60 253.73 C335.39 255.24 336.44 256.98 336.14 258.08 C335.84 259.18 334.86 259.89 332.79 260.35 C330.72 260.80 326.74 260.72 323.72 260.80 C320.70 260.88 317.07 261.18 314.65 260.80 C312.24 260.42 310.50 259.97 309.21 258.53 C307.93 257.10 307.10 253.92 306.95 252.19Z" fill="rgba(0,0,0,0.035)" stroke="rgba(0,0,0,0.55)" stroke-width="0.42"/><path d="M308.39 252.37 C308.26 250.81 309.00 249.69 309.61 248.71 C310.22 247.74 310.96 247.10 312.05 246.52 C313.15 245.93 314.57 245.37 316.20 245.22 C317.83 245.07 320.04 245.27 321.81 245.62 C323.59 245.98 325.43 246.68 326.86 247.33 C328.28 247.98 329.30 248.46 330.35 249.53 C331.41 250.60 332.50 252.40 333.20 253.76 C333.90 255.11 334.85 256.67 334.58 257.66 C334.31 258.65 333.43 259.29 331.57 259.69 C329.72 260.10 326.15 260.03 323.44 260.10 C320.73 260.17 317.48 260.44 315.31 260.10 C313.14 259.76 311.58 259.35 310.43 258.07 C309.27 256.78 308.53 253.93 308.39 252.37Z" fill="rgba(0,0,0,0.035)" stroke="rgba(0,0,0,0.55)" stroke-width="0.42"/><path d="M309.84 252.56 C309.72 251.18 310.38 250.18 310.92 249.32 C311.46 248.46 312.11 247.89 313.08 247.38 C314.05 246.86 315.31 246.36 316.75 246.22 C318.19 246.09 320.15 246.27 321.72 246.58 C323.29 246.90 324.92 247.52 326.18 248.10 C327.44 248.67 328.34 249.09 329.28 250.04 C330.22 250.99 331.18 252.58 331.80 253.78 C332.42 254.98 333.26 256.36 333.02 257.24 C332.78 258.12 332.00 258.68 330.36 259.04 C328.72 259.40 325.56 259.34 323.16 259.40 C320.76 259.46 317.88 259.70 315.96 259.40 C314.04 259.10 312.66 258.74 311.64 257.60 C310.62 256.46 309.96 253.94 309.84 252.56Z" fill="rgba(0,0,0,0.035)" stroke="rgba(0,0,0,0.55)" stroke-width="0.42"/><path d="M312.50 257.50 C312.75 256.42 313.37 252.62 314.00 251.00 C314.63 249.38 315.52 247.80 316.30 247.80 C317.08 247.80 318.05 249.38 318.70 251.00 C319.35 252.62 320.60 256.75 320.20 257.50 C319.80 258.25 317.58 255.50 316.30 255.50 C315.02 255.50 313.13 257.17 312.50 257.50" fill="none" stroke="rgba(0,0,0,0.55)" stroke-width="0.45"/><path d="M314.50 255.00 C314.80 254.42 315.72 251.50 316.30 251.50 C316.88 251.50 317.72 254.42 318.00 255.00" fill="none" stroke="rgba(0,0,0,0.45)" stroke-width="0.4"/><path d="M323.50 249.80 C324.00 249.43 325.50 247.73 326.50 247.60 C327.50 247.47 329.05 248.23 329.50 249.00 C329.95 249.77 329.75 251.12 329.20 252.20 C328.65 253.28 325.82 254.73 326.20 255.50 C326.58 256.27 330.62 256.58 331.50 256.80" fill="none" stroke="rgba(0,0,0,0.55)" stroke-width="0.45"/><path d="M305.50 252.00 C305.65 252.67 305.82 254.50 306.40 256.00 C306.98 257.50 308.23 259.00 309.00 261.00 C309.77 263.00 310.47 265.50 311.00 268.00 C311.53 270.50 312.00 274.67 312.20 276.00" fill="none" stroke="rgba(0,0,0,0.45)" stroke-width="0.42"/><path d="M256.00 252.00 C256.33 252.33 257.67 253.00 258.00 254.00 C258.33 255.00 258.33 257.17 258.00 258.00 C257.67 258.83 256.33 258.83 256.00 259.00" fill="none" stroke="rgba(0,0,0,0.4)" stroke-width="0.45"/><path d="M318.40 261.00 C320.90 259.42 324.78 260.33 328.00 260.50 C331.22 260.67 335.70 260.42 337.70 262.00 C339.70 263.58 339.78 267.00 340.00 270.00 C340.22 273.00 339.20 276.97 339.00 280.00 C338.80 283.03 339.40 284.20 338.80 288.20 C338.20 292.20 336.37 299.70 335.40 304.00 C334.43 308.30 336.07 312.33 333.00 314.00 C329.93 315.67 320.00 314.90 317.00 314.00 C314.00 313.10 315.90 311.77 315.00 308.60 C314.10 305.43 312.07 299.53 311.60 295.00 C311.13 290.47 311.97 285.57 312.20 281.40 C312.43 277.23 311.97 273.40 313.00 270.00 C314.03 266.60 315.90 262.58 318.40 261.00Z" fill="rgba(0,0,0,0.085)" stroke="rgba(0,0,0,0.24)" stroke-width="0.35"/><path d="M318.89 262.69 C321.21 261.20 324.80 262.06 327.77 262.22 C330.75 262.38 334.90 262.14 336.75 263.63 C338.60 265.12 338.67 268.34 338.88 271.17 C339.08 273.99 338.13 277.73 337.95 280.58 C337.76 283.44 338.32 284.54 337.76 288.31 C337.21 292.07 335.51 299.13 334.62 303.18 C333.73 307.23 335.24 311.03 332.40 312.60 C329.56 314.17 320.38 313.45 317.60 312.60 C314.83 311.75 316.58 310.50 315.75 307.52 C314.92 304.53 313.04 298.98 312.61 294.71 C312.17 290.44 312.94 285.83 313.16 281.90 C313.38 277.98 312.94 274.37 313.90 271.17 C314.86 267.97 316.58 264.18 318.89 262.69Z" fill="rgba(0,0,0,0.085)" stroke="rgba(0,0,0,0.24)" stroke-width="0.35"/><path d="M319.39 264.38 C321.51 262.98 324.82 263.79 327.55 263.94 C330.28 264.09 334.10 263.87 335.80 265.27 C337.50 266.67 337.57 269.68 337.75 272.33 C337.93 274.98 337.07 278.49 336.90 281.17 C336.73 283.85 337.24 284.88 336.73 288.41 C336.22 291.94 334.66 298.57 333.84 302.37 C333.02 306.17 334.41 309.73 331.80 311.20 C329.19 312.67 320.75 312.00 318.20 311.20 C315.65 310.40 317.26 309.23 316.50 306.43 C315.74 303.63 314.01 298.42 313.61 294.42 C313.21 290.41 313.92 286.08 314.12 282.40 C314.32 278.72 313.92 275.34 314.80 272.33 C315.68 269.33 317.26 265.78 319.39 264.38Z" fill="rgba(0,0,0,0.085)" stroke="rgba(0,0,0,0.24)" stroke-width="0.35"/><path d="M319.88 266.07 C321.82 264.77 324.83 265.53 327.32 265.66 C329.82 265.80 333.29 265.59 334.84 266.90 C336.39 268.21 336.46 271.02 336.62 273.50 C336.79 275.98 336.00 279.25 335.85 281.75 C335.70 284.25 336.16 285.21 335.69 288.51 C335.23 291.81 333.81 298.00 333.06 301.55 C332.31 305.10 333.58 308.43 331.20 309.80 C328.82 311.18 321.12 310.54 318.80 309.80 C316.48 309.06 317.95 307.96 317.25 305.35 C316.55 302.73 314.98 297.87 314.62 294.12 C314.25 290.38 314.90 286.34 315.08 282.90 C315.26 279.47 314.90 276.31 315.70 273.50 C316.50 270.69 317.95 267.38 319.88 266.07Z" fill="rgba(0,0,0,0.085)" stroke="rgba(0,0,0,0.24)" stroke-width="0.35"/><path d="M320.38 267.77 C322.13 266.55 324.85 267.26 327.10 267.38 C329.35 267.51 332.49 267.32 333.89 268.53 C335.29 269.75 335.35 272.37 335.50 274.67 C335.65 276.97 334.94 280.01 334.80 282.33 C334.66 284.66 335.08 285.55 334.66 288.62 C334.24 291.69 332.96 297.44 332.28 300.73 C331.60 304.03 332.75 307.12 330.60 308.40 C328.45 309.68 321.50 309.09 319.40 308.40 C317.30 307.71 318.63 306.69 318.00 304.26 C317.37 301.83 315.95 297.31 315.62 293.83 C315.29 290.36 315.88 286.60 316.04 283.41 C316.20 280.21 315.88 277.27 316.60 274.67 C317.32 272.06 318.63 268.98 320.38 267.77Z" fill="rgba(0,0,0,0.085)" stroke="rgba(0,0,0,0.24)" stroke-width="0.35"/><path d="M320.88 269.46 C322.44 268.34 324.86 268.99 326.88 269.10 C328.89 269.22 331.69 269.05 332.94 270.17 C334.19 271.29 334.24 273.71 334.38 275.83 C334.51 277.96 333.88 280.77 333.75 282.92 C333.62 285.07 334.00 285.89 333.62 288.72 C333.25 291.56 332.10 296.87 331.50 299.92 C330.90 302.96 331.92 305.82 330.00 307.00 C328.08 308.18 321.88 307.64 320.00 307.00 C318.12 306.36 319.31 305.42 318.75 303.18 C318.19 300.93 316.92 296.75 316.62 293.54 C316.33 290.33 316.85 286.86 317.00 283.91 C317.15 280.96 316.85 278.24 317.50 275.83 C318.15 273.42 319.31 270.58 320.88 269.46Z" fill="rgba(0,0,0,0.085)" stroke="rgba(0,0,0,0.24)" stroke-width="0.35"/><path d="M321.37 271.15 C322.75 270.12 324.88 270.72 326.65 270.82 C328.42 270.93 330.88 270.77 331.99 271.80 C333.09 272.83 333.13 275.05 333.25 277.00 C333.37 278.95 332.81 281.53 332.70 283.50 C332.59 285.47 332.92 286.23 332.59 288.83 C332.26 291.43 331.25 296.31 330.72 299.10 C330.19 301.90 331.09 304.52 329.40 305.60 C327.71 306.68 322.25 306.19 320.60 305.60 C318.95 305.02 320.00 304.15 319.50 302.09 C319.00 300.03 317.89 296.20 317.63 293.25 C317.37 290.30 317.83 287.12 317.96 284.41 C318.09 281.70 317.83 279.21 318.40 277.00 C318.97 274.79 320.00 272.18 321.37 271.15Z" fill="rgba(0,0,0,0.085)" stroke="rgba(0,0,0,0.24)" stroke-width="0.35"/><path d="M321.87 272.84 C323.05 271.90 324.90 272.45 326.43 272.55 C327.95 272.64 330.08 272.50 331.03 273.43 C331.98 274.37 332.02 276.39 332.12 278.17 C332.23 279.94 331.75 282.29 331.65 284.08 C331.55 285.88 331.84 286.57 331.56 288.94 C331.27 291.30 330.40 295.74 329.94 298.28 C329.48 300.83 330.26 303.21 328.80 304.20 C327.34 305.19 322.62 304.73 321.20 304.20 C319.77 303.67 320.68 302.88 320.25 301.00 C319.82 299.13 318.86 295.64 318.63 292.96 C318.41 290.28 318.81 287.38 318.92 284.91 C319.03 282.45 318.81 280.18 319.30 278.17 C319.79 276.16 320.68 273.78 321.87 272.84Z" fill="rgba(0,0,0,0.085)" stroke="rgba(0,0,0,0.24)" stroke-width="0.35"/><path d="M322.36 274.53 C323.36 273.69 324.91 274.18 326.20 274.27 C327.49 274.36 329.28 274.22 330.08 275.07 C330.88 275.91 330.91 277.73 331.00 279.33 C331.09 280.93 330.68 283.05 330.60 284.67 C330.52 286.28 330.76 286.91 330.52 289.04 C330.28 291.17 329.55 295.17 329.16 297.47 C328.77 299.76 329.43 301.91 328.20 302.80 C326.97 303.69 323.00 303.28 321.80 302.80 C320.60 302.32 321.36 301.61 321.00 299.92 C320.64 298.23 319.83 295.08 319.64 292.67 C319.45 290.25 319.79 287.64 319.88 285.41 C319.97 283.19 319.79 281.15 320.20 279.33 C320.61 277.52 321.36 275.38 322.36 274.53Z" fill="rgba(0,0,0,0.085)" stroke="rgba(0,0,0,0.24)" stroke-width="0.35"/><path d="M322.86 276.23 C323.67 275.47 324.93 275.91 325.98 275.99 C327.02 276.07 328.48 275.95 329.13 276.70 C329.78 277.45 329.80 279.07 329.88 280.50 C329.95 281.93 329.62 283.81 329.55 285.25 C329.49 286.69 329.68 287.25 329.49 289.14 C329.29 291.04 328.69 294.61 328.38 296.65 C328.07 298.69 328.60 300.61 327.60 301.40 C326.60 302.19 323.38 301.83 322.40 301.40 C321.42 300.97 322.04 300.34 321.75 298.84 C321.46 297.33 320.80 294.53 320.64 292.38 C320.49 290.22 320.76 287.89 320.84 285.91 C320.92 283.94 320.76 282.12 321.10 280.50 C321.44 278.88 322.04 276.98 322.86 276.23Z" fill="rgba(0,0,0,0.085)" stroke="rgba(0,0,0,0.24)" stroke-width="0.35"/><path d="M323.35 277.92 C323.98 277.26 324.95 277.64 325.75 277.71 C326.55 277.78 327.68 277.67 328.18 278.33 C328.68 278.99 328.70 280.42 328.75 281.67 C328.80 282.92 328.55 284.57 328.50 285.83 C328.45 287.10 328.60 287.58 328.45 289.25 C328.30 290.92 327.84 294.04 327.60 295.83 C327.36 297.62 327.77 299.31 327.00 300.00 C326.23 300.69 323.75 300.38 323.00 300.00 C322.25 299.62 322.73 299.07 322.50 297.75 C322.27 296.43 321.77 293.97 321.65 292.08 C321.53 290.19 321.74 288.15 321.80 286.42 C321.86 284.68 321.74 283.08 322.00 281.67 C322.26 280.25 322.73 278.58 323.35 277.92Z" fill="rgba(0,0,0,0.085)" stroke="rgba(0,0,0,0.24)" stroke-width="0.35"/><path d="M323.84 279.61 C324.28 279.04 324.96 279.37 325.52 279.43 C326.09 279.49 326.87 279.40 327.22 279.97 C327.57 280.53 327.59 281.76 327.62 282.83 C327.66 283.91 327.49 285.33 327.45 286.42 C327.41 287.50 327.52 287.92 327.42 289.36 C327.31 290.79 326.99 293.48 326.82 295.02 C326.65 296.56 326.94 298.00 326.40 298.60 C325.86 299.20 324.12 298.92 323.60 298.60 C323.08 298.28 323.41 297.80 323.25 296.67 C323.09 295.53 322.74 293.42 322.66 291.79 C322.57 290.17 322.72 288.41 322.76 286.92 C322.80 285.43 322.72 284.05 322.90 282.83 C323.08 281.62 323.41 280.18 323.84 279.61Z" fill="rgba(0,0,0,0.085)" stroke="rgba(0,0,0,0.24)" stroke-width="0.35"/><path d="M324.34 281.30 C324.59 280.82 324.98 281.10 325.30 281.15 C325.62 281.20 326.07 281.12 326.27 281.60 C326.47 282.08 326.48 283.10 326.50 284.00 C326.52 284.90 326.42 286.09 326.40 287.00 C326.38 287.91 326.44 288.26 326.38 289.46 C326.32 290.66 326.14 292.91 326.04 294.20 C325.94 295.49 326.11 296.70 325.80 297.20 C325.49 297.70 324.50 297.47 324.20 297.20 C323.90 296.93 324.09 296.53 324.00 295.58 C323.91 294.63 323.71 292.86 323.66 291.50 C323.61 290.14 323.70 288.67 323.72 287.42 C323.74 286.17 323.70 285.02 323.80 284.00 C323.90 282.98 324.09 281.78 324.34 281.30Z" fill="rgba(0,0,0,0.085)" stroke="rgba(0,0,0,0.24)" stroke-width="0.35"/><path d="M318.40 261.00 C320.90 259.42 324.78 260.33 328.00 260.50 C331.22 260.67 335.70 260.42 337.70 262.00 C339.70 263.58 339.78 267.00 340.00 270.00 C340.22 273.00 339.20 276.97 339.00 280.00 C338.80 283.03 339.40 284.20 338.80 288.20 C338.20 292.20 336.37 299.70 335.40 304.00 C334.43 308.30 336.07 312.33 333.00 314.00 C329.93 315.67 320.00 314.90 317.00 314.00 C314.00 313.10 315.90 311.77 315.00 308.60 C314.10 305.43 312.07 299.53 311.60 295.00 C311.13 290.47 311.97 285.57 312.20 281.40 C312.43 277.23 311.97 273.40 313.00 270.00 C314.03 266.60 315.90 262.58 318.40 261.00Z" fill="none" stroke="rgba(0,0,0,0.45)" stroke-width="0.45"/><ellipse cx="322" cy="284" rx="3.8" ry="17" fill="rgba(0,0,0,0.5)" filter="url(#b1)"/><ellipse cx="330" cy="281" rx="2.6" ry="14" fill="rgba(0,0,0,0.38)" filter="url(#b1)"/><path d="M327.00 270.00 C326.92 271.17 326.63 274.50 326.50 277.00 C326.37 279.50 326.32 282.67 326.20 285.00 C326.08 287.33 325.87 290.00 325.80 291.00" fill="none" stroke="rgba(255,255,255,0.35)" stroke-width="0.9" stroke-linecap="round"/><ellipse cx="326.3" cy="281.5" rx="0.9" ry="4" fill="rgba(255,255,255,0.85)" /></g><path d="M291.9 218.6 V312.4" stroke="#808080" stroke-width="2.2"/><path d="M255.9 260.95 H349.4" stroke="#787878" stroke-width="2.3"/><rect x="255.9" y="218.6" width="93.50" height="93.80" fill="none" stroke="#a0a0a0" stroke-width="1.4"/><g font-family="Liberation Sans" font-size="3.9" fill="#333" stroke="#333" stroke-width="0.15"><text x="258.10" y="225.60">Q1</text><text x="345.10" y="225.60" text-anchor="end">Q2</text><text x="258.10" y="308.10">Q4</text><text x="345.10" y="308.10" text-anchor="end">Q3</text></g><g clip-path="url(#c5)"><path d="M401.00 238.50 C404.15 238.37 409.53 238.25 412.70 238.50 C415.87 238.75 418.30 238.90 420.00 240.00 C421.70 241.10 422.67 243.05 422.90 245.10 C423.13 247.15 422.62 249.65 421.40 252.30 C420.18 254.95 417.53 258.57 415.60 261.00 C413.67 263.43 411.98 264.70 409.80 266.90 C407.62 269.10 404.68 272.63 402.50 274.20 C400.32 275.77 398.88 276.18 396.70 276.30 C394.52 276.42 391.70 275.87 389.40 274.90 C387.10 273.93 384.72 272.20 382.90 270.50 C381.08 268.80 379.23 267.00 378.50 264.70 C377.77 262.40 378.02 259.48 378.50 256.70 C378.98 253.92 380.07 250.42 381.40 248.00 C382.73 245.58 384.43 243.65 386.50 242.20 C388.57 240.75 391.38 239.92 393.80 239.30 C396.22 238.68 397.85 238.63 401.00 238.50Z" fill="rgba(0,0,0,0.08)" stroke="rgba(0,0,0,0.3)" stroke-width="0.35"/><path d="M400.67 239.36 C403.56 239.24 408.51 239.13 411.42 239.36 C414.32 239.59 416.56 239.73 418.12 240.74 C419.68 241.75 420.57 243.54 420.78 245.42 C421.00 247.30 420.52 249.60 419.40 252.03 C418.29 254.46 415.85 257.78 414.08 260.02 C412.30 262.25 410.76 263.42 408.75 265.44 C406.75 267.46 404.05 270.70 402.05 272.14 C400.05 273.58 398.73 273.96 396.72 274.07 C394.72 274.17 392.13 273.67 390.02 272.78 C387.91 271.89 385.72 270.30 384.05 268.74 C382.39 267.18 380.69 265.53 380.01 263.42 C379.34 261.30 379.57 258.63 380.01 256.07 C380.46 253.51 381.45 250.30 382.68 248.08 C383.90 245.86 385.46 244.09 387.36 242.76 C389.26 241.42 391.84 240.66 394.06 240.09 C396.28 239.53 397.78 239.48 400.67 239.36Z" fill="rgba(0,0,0,0.08)" stroke="rgba(0,0,0,0.3)" stroke-width="0.35"/><path d="M400.35 240.22 C402.98 240.11 407.48 240.01 410.13 240.22 C412.78 240.43 414.81 240.55 416.24 241.47 C417.66 242.39 418.47 244.02 418.66 245.74 C418.86 247.45 418.42 249.54 417.41 251.76 C416.39 253.98 414.17 257.00 412.56 259.04 C410.94 261.07 409.53 262.13 407.71 263.97 C405.88 265.81 403.43 268.77 401.60 270.08 C399.77 271.39 398.58 271.74 396.75 271.83 C394.92 271.93 392.57 271.47 390.64 270.66 C388.72 269.85 386.73 268.40 385.21 266.98 C383.69 265.56 382.14 264.05 381.53 262.13 C380.91 260.21 381.12 257.77 381.53 255.44 C381.93 253.11 382.84 250.18 383.95 248.16 C385.07 246.14 386.49 244.53 388.22 243.31 C389.95 242.10 392.30 241.40 394.32 240.89 C396.34 240.37 397.71 240.33 400.35 240.22Z" fill="rgba(0,0,0,0.08)" stroke="rgba(0,0,0,0.3)" stroke-width="0.35"/><path d="M400.02 241.08 C402.39 240.98 406.46 240.89 408.85 241.08 C411.24 241.27 413.07 241.38 414.35 242.21 C415.64 243.04 416.37 244.51 416.54 246.06 C416.72 247.60 416.33 249.49 415.41 251.49 C414.49 253.49 412.49 256.22 411.03 258.05 C409.58 259.89 408.31 260.85 406.66 262.51 C405.01 264.17 402.80 266.83 401.15 268.01 C399.50 269.20 398.42 269.51 396.77 269.60 C395.13 269.69 393.00 269.27 391.27 268.54 C389.53 267.81 387.73 266.51 386.36 265.22 C384.99 263.94 383.59 262.58 383.04 260.85 C382.49 259.11 382.68 256.91 383.04 254.81 C383.41 252.71 384.22 250.07 385.23 248.25 C386.24 246.42 387.52 244.96 389.08 243.87 C390.64 242.78 392.76 242.15 394.59 241.68 C396.41 241.22 397.64 241.18 400.02 241.08Z" fill="rgba(0,0,0,0.08)" stroke="rgba(0,0,0,0.3)" stroke-width="0.35"/><path d="M399.69 241.94 C401.81 241.85 405.43 241.77 407.56 241.94 C409.69 242.10 411.33 242.21 412.47 242.95 C413.62 243.69 414.27 245.00 414.42 246.38 C414.58 247.76 414.23 249.44 413.41 251.22 C412.60 253.00 410.81 255.44 409.51 257.07 C408.21 258.71 407.08 259.56 405.61 261.04 C404.14 262.52 402.17 264.90 400.70 265.95 C399.23 267.01 398.27 267.29 396.80 267.37 C395.33 267.44 393.43 267.07 391.89 266.42 C390.34 265.77 388.74 264.61 387.51 263.46 C386.29 262.32 385.05 261.11 384.55 259.56 C384.06 258.01 384.23 256.05 384.55 254.18 C384.88 252.31 385.61 249.95 386.51 248.33 C387.40 246.70 388.55 245.40 389.94 244.43 C391.33 243.45 393.22 242.89 394.85 242.47 C396.47 242.06 397.57 242.03 399.69 241.94Z" fill="rgba(0,0,0,0.08)" stroke="rgba(0,0,0,0.3)" stroke-width="0.35"/><path d="M399.36 242.80 C401.23 242.72 404.41 242.65 406.28 242.80 C408.15 242.94 409.59 243.03 410.59 243.68 C411.60 244.33 412.17 245.48 412.30 246.70 C412.44 247.91 412.14 249.38 411.42 250.95 C410.70 252.52 409.13 254.65 407.99 256.09 C406.85 257.53 405.85 258.28 404.56 259.58 C403.27 260.88 401.54 262.97 400.25 263.89 C398.96 264.82 398.11 265.06 396.82 265.13 C395.53 265.20 393.87 264.88 392.51 264.30 C391.15 263.73 389.74 262.71 388.67 261.70 C387.59 260.70 386.50 259.64 386.07 258.28 C385.63 256.92 385.78 255.19 386.07 253.55 C386.35 251.91 386.99 249.84 387.78 248.41 C388.57 246.98 389.57 245.84 390.80 244.98 C392.02 244.12 393.68 243.63 395.11 243.27 C396.54 242.90 397.50 242.87 399.36 242.80Z" fill="rgba(0,0,0,0.08)" stroke="rgba(0,0,0,0.3)" stroke-width="0.35"/><path d="M399.04 243.65 C400.64 243.59 403.38 243.53 404.99 243.65 C406.60 243.78 407.84 243.86 408.71 244.42 C409.57 244.98 410.07 245.97 410.19 247.01 C410.30 248.06 410.04 249.33 409.42 250.68 C408.80 252.03 407.45 253.87 406.47 255.11 C405.48 256.35 404.63 256.99 403.52 258.11 C402.40 259.23 400.91 261.03 399.80 261.83 C398.69 262.63 397.96 262.84 396.85 262.90 C395.74 262.96 394.30 262.68 393.13 262.19 C391.96 261.69 390.75 260.81 389.82 259.95 C388.90 259.08 387.96 258.16 387.58 256.99 C387.21 255.82 387.34 254.34 387.58 252.92 C387.83 251.50 388.38 249.72 389.06 248.49 C389.74 247.26 390.60 246.28 391.65 245.54 C392.71 244.80 394.14 244.38 395.37 244.06 C396.60 243.75 397.43 243.72 399.04 243.65Z" fill="rgba(0,0,0,0.08)" stroke="rgba(0,0,0,0.3)" stroke-width="0.35"/><path d="M398.71 244.51 C400.05 244.46 402.36 244.41 403.71 244.51 C405.06 244.62 406.10 244.68 406.83 245.15 C407.55 245.62 407.97 246.46 408.07 247.33 C408.17 248.21 407.95 249.28 407.43 250.41 C406.91 251.54 405.77 253.09 404.95 254.13 C404.12 255.17 403.40 255.71 402.47 256.65 C401.54 257.59 400.28 259.10 399.35 259.77 C398.42 260.44 397.80 260.61 396.87 260.66 C395.94 260.71 394.74 260.48 393.75 260.07 C392.77 259.65 391.75 258.91 390.98 258.19 C390.20 257.46 389.41 256.69 389.10 255.71 C388.78 254.73 388.89 253.48 389.10 252.29 C389.30 251.10 389.76 249.61 390.33 248.57 C390.90 247.54 391.63 246.71 392.51 246.09 C393.40 245.47 394.60 245.12 395.63 244.86 C396.67 244.59 397.36 244.57 398.71 244.51Z" fill="rgba(0,0,0,0.08)" stroke="rgba(0,0,0,0.3)" stroke-width="0.35"/><path d="M398.38 245.37 C399.47 245.33 401.33 245.29 402.42 245.37 C403.52 245.46 404.36 245.51 404.95 245.89 C405.53 246.27 405.87 246.94 405.95 247.65 C406.03 248.36 405.85 249.22 405.43 250.14 C405.01 251.06 404.09 252.30 403.43 253.15 C402.76 253.99 402.18 254.42 401.42 255.18 C400.67 255.94 399.65 257.16 398.90 257.71 C398.15 258.25 397.65 258.39 396.90 258.43 C396.14 258.47 395.17 258.28 394.37 257.95 C393.58 257.61 392.76 257.01 392.13 256.43 C391.50 255.84 390.86 255.22 390.61 254.42 C390.36 253.63 390.44 252.62 390.61 251.66 C390.78 250.70 391.15 249.49 391.61 248.65 C392.07 247.82 392.66 247.15 393.37 246.65 C394.09 246.15 395.06 245.86 395.89 245.65 C396.73 245.44 397.29 245.42 398.38 245.37Z" fill="rgba(0,0,0,0.08)" stroke="rgba(0,0,0,0.3)" stroke-width="0.35"/><path d="M398.05 246.23 C398.88 246.20 400.30 246.17 401.14 246.23 C401.97 246.30 402.62 246.34 403.06 246.63 C403.51 246.92 403.77 247.43 403.83 247.97 C403.89 248.51 403.75 249.17 403.43 249.87 C403.11 250.57 402.41 251.52 401.90 252.16 C401.39 252.81 400.95 253.14 400.37 253.72 C399.80 254.30 399.03 255.23 398.45 255.64 C397.87 256.06 397.50 256.17 396.92 256.20 C396.35 256.23 395.60 256.08 395.00 255.83 C394.39 255.57 393.76 255.12 393.28 254.67 C392.80 254.22 392.32 253.75 392.12 253.14 C391.93 252.53 392.00 251.76 392.12 251.03 C392.25 250.30 392.54 249.37 392.89 248.74 C393.24 248.10 393.69 247.59 394.23 247.21 C394.78 246.83 395.52 246.61 396.16 246.44 C396.79 246.28 397.22 246.27 398.05 246.23Z" fill="rgba(0,0,0,0.08)" stroke="rgba(0,0,0,0.3)" stroke-width="0.35"/><path d="M397.73 247.09 C398.30 247.07 399.28 247.05 399.85 247.09 C400.43 247.14 400.87 247.16 401.18 247.36 C401.49 247.56 401.67 247.92 401.71 248.29 C401.75 248.66 401.66 249.12 401.44 249.60 C401.22 250.08 400.73 250.74 400.38 251.18 C400.03 251.62 399.72 251.85 399.33 252.25 C398.93 252.65 398.40 253.30 398.00 253.58 C397.60 253.87 397.34 253.94 396.95 253.96 C396.55 253.98 396.04 253.88 395.62 253.71 C395.20 253.53 394.77 253.22 394.44 252.91 C394.11 252.60 393.77 252.27 393.64 251.85 C393.50 251.44 393.55 250.91 393.64 250.40 C393.72 249.89 393.92 249.26 394.16 248.82 C394.41 248.38 394.72 248.03 395.09 247.76 C395.47 247.50 395.98 247.35 396.42 247.24 C396.86 247.12 397.15 247.12 397.73 247.09Z" fill="rgba(0,0,0,0.08)" stroke="rgba(0,0,0,0.3)" stroke-width="0.35"/><path d="M397.40 247.95 C397.71 247.94 398.25 247.92 398.57 247.95 C398.89 247.97 399.13 247.99 399.30 248.10 C399.47 248.21 399.57 248.41 399.59 248.61 C399.61 248.82 399.56 249.07 399.44 249.33 C399.32 249.59 399.05 249.96 398.86 250.20 C398.67 250.44 398.50 250.57 398.28 250.79 C398.06 251.01 397.77 251.36 397.55 251.52 C397.33 251.68 397.19 251.72 396.97 251.73 C396.75 251.74 396.47 251.69 396.24 251.59 C396.01 251.49 395.77 251.32 395.59 251.15 C395.41 250.98 395.22 250.80 395.15 250.57 C395.08 250.34 395.10 250.05 395.15 249.77 C395.20 249.49 395.31 249.14 395.44 248.90 C395.57 248.66 395.74 248.47 395.95 248.32 C396.16 248.17 396.44 248.09 396.68 248.03 C396.92 247.97 397.08 247.96 397.40 247.95Z" fill="rgba(0,0,0,0.08)" stroke="rgba(0,0,0,0.3)" stroke-width="0.35"/><path d="M401.00 238.50 C404.15 238.37 409.53 238.25 412.70 238.50 C415.87 238.75 418.30 238.90 420.00 240.00 C421.70 241.10 422.67 243.05 422.90 245.10 C423.13 247.15 422.62 249.65 421.40 252.30 C420.18 254.95 417.53 258.57 415.60 261.00 C413.67 263.43 411.98 264.70 409.80 266.90 C407.62 269.10 404.68 272.63 402.50 274.20 C400.32 275.77 398.88 276.18 396.70 276.30 C394.52 276.42 391.70 275.87 389.40 274.90 C387.10 273.93 384.72 272.20 382.90 270.50 C381.08 268.80 379.23 267.00 378.50 264.70 C377.77 262.40 378.02 259.48 378.50 256.70 C378.98 253.92 380.07 250.42 381.40 248.00 C382.73 245.58 384.43 243.65 386.50 242.20 C388.57 240.75 391.38 239.92 393.80 239.30 C396.22 238.68 397.85 238.63 401.00 238.50Z" fill="none" stroke="rgba(0,0,0,0.6)" stroke-width="0.5"/><path d="M414.00 238.20 C415.08 238.58 418.83 239.28 420.50 240.50 C422.17 241.72 423.53 243.67 424.00 245.50 C424.47 247.33 423.97 249.58 423.30 251.50 C422.63 253.42 420.55 256.08 420.00 257.00" fill="none" stroke="rgba(0,0,0,0.5)" stroke-width="0.45"/><ellipse cx="400" cy="246" rx="8" ry="5.5" fill="rgba(0,0,0,0.35)" filter="url(#b1)"/><ellipse cx="387.5" cy="255" rx="6.5" ry="7" fill="rgba(0,0,0,0.2)" filter="url(#b2)"/><ellipse cx="413" cy="250" rx="5" ry="5" fill="rgba(255,255,255,0.2)" filter="url(#b2)"/><ellipse cx="398.9" cy="250.9" rx="1.4" ry="0.9" fill="rgba(255,255,255,0.9)"/><circle cx="425" cy="253" r="0.8" fill="rgba(0,0,0,0.2)"/></g><path d="M394.9 218.7 V312.4" stroke="#6a6a6a" stroke-width="1.9"/><path d="M358.8 261.0 H452.0" stroke="#787878" stroke-width="2.2"/><rect x="358.8" y="218.7" width="93.20" height="93.70" fill="none" stroke="#a0a0a0" stroke-width="1.4"/><g font-family="Liberation Sans" font-size="3.9" fill="#333" stroke="#333" stroke-width="0.15"><text x="361.00" y="225.70">Q1</text><text x="447.70" y="225.70" text-anchor="end">Q2</text><text x="361.00" y="308.10">Q4</text><text x="447.70" y="308.10" text-anchor="end">Q3</text></g><path d="M239.5 111.4 L251.6 130.3 H245.3 V299.3 H233.6 V130.3 H227.6 Z" fill="#f9fdff" stroke="#3a4a63" stroke-width="1.3" stroke-linejoin="miter"/><path d="M257.5 321.3 H426.8 V314.6 L446.3 328.2 L426.8 341.5 V334.8 H257.5 Z" fill="#f9fdff" stroke="#3a4a63" stroke-width="1.3"/><text transform="translate(242.7 239.2) rotate(-90)" font-family="Liberation Sans" font-weight="bold" font-size="9.6" textLength="56.4" lengthAdjust="spacingAndGlyphs" fill="#111">CD45RO</text><text x="328.7" y="331.4" font-family="Liberation Sans" font-weight="bold" font-size="9.6" textLength="35.1" lengthAdjust="spacingAndGlyphs" fill="#111">CCR7</text>
</svg>
</body></html>
